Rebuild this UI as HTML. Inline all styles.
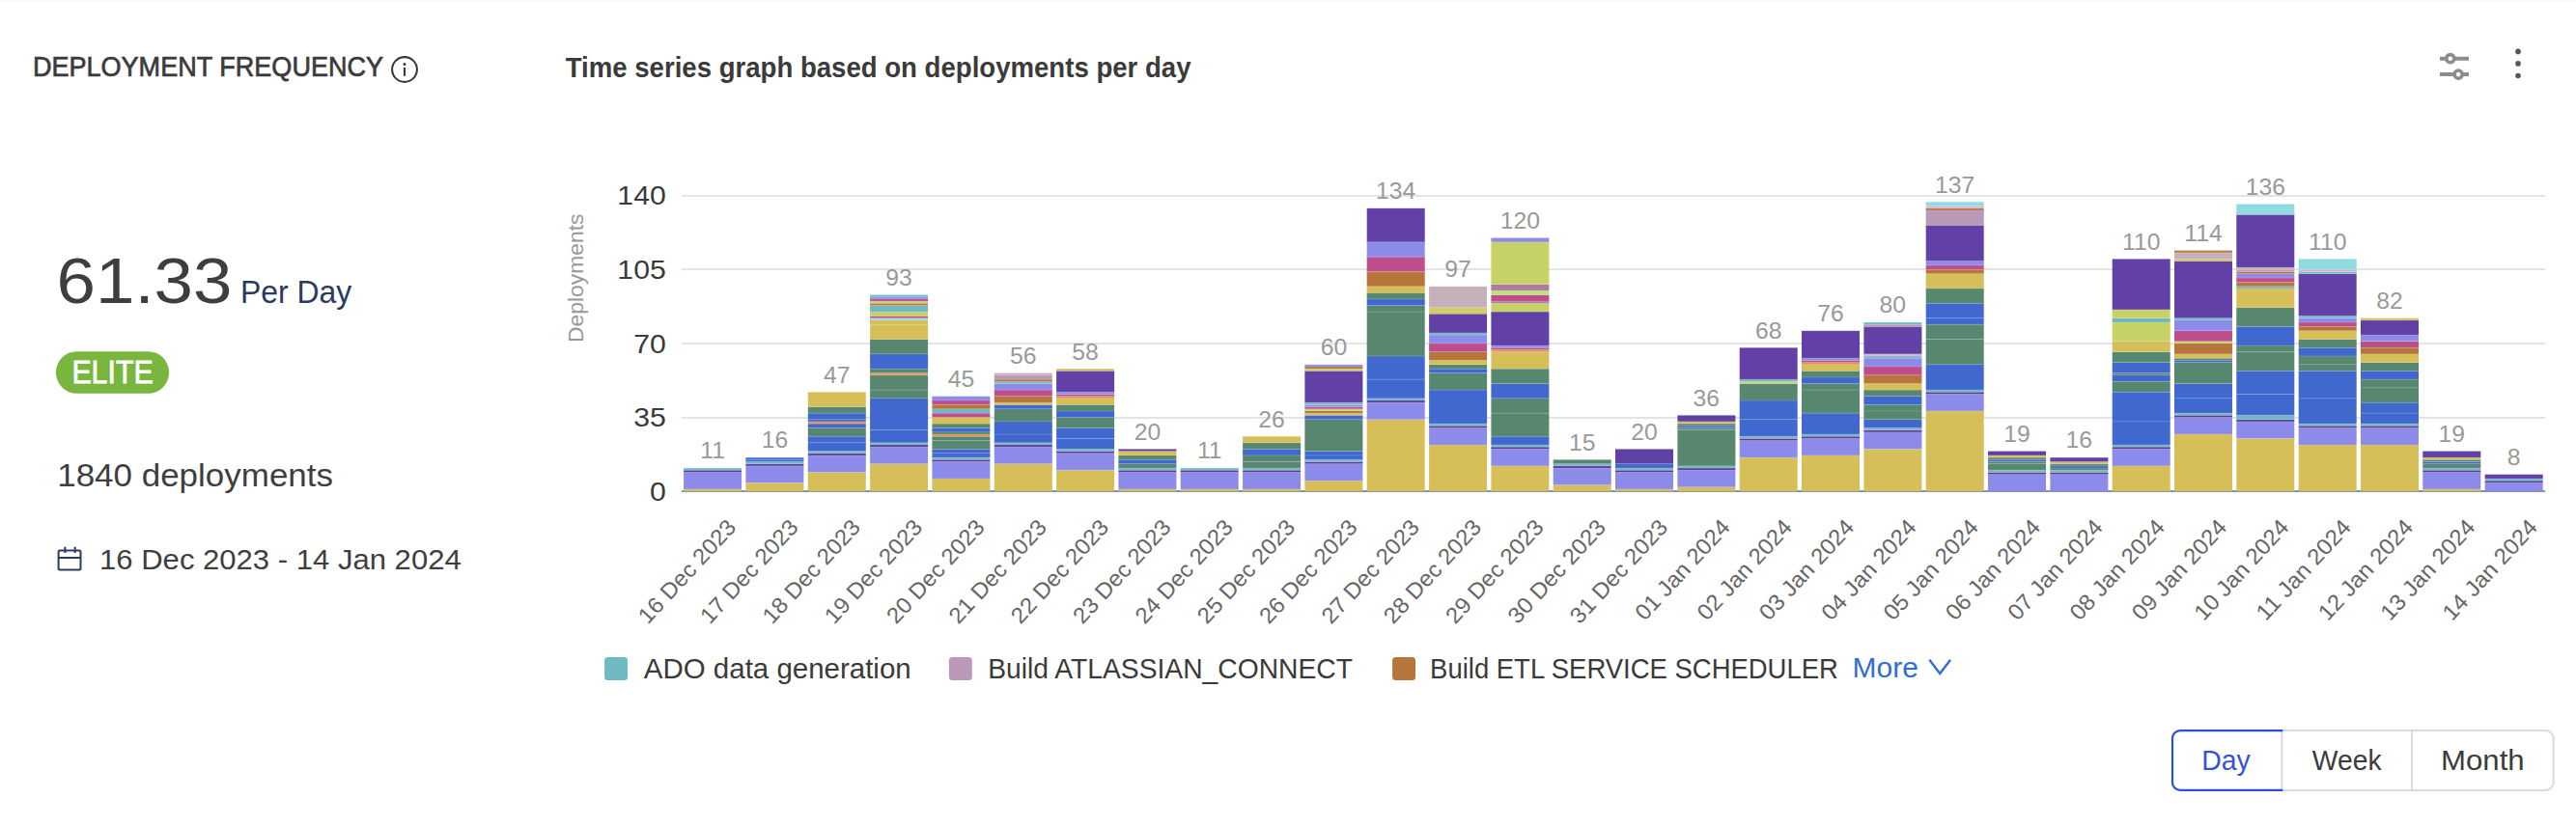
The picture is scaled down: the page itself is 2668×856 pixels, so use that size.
<!DOCTYPE html>
<html lang="en"><head><meta charset="utf-8"><title>Deployment Frequency</title>
<style>
html,body{margin:0;padding:0;background:#fff;}
html,body{overflow:hidden;}
body{font-family:"Liberation Sans", sans-serif;}
svg{display:block;width:100vw;height:calc(100vw * 856 / 2668);}
svg text{white-space:pre;}
</style></head><body>
<svg viewBox="0 0 2668 856" preserveAspectRatio="xMinYMin meet" font-family='"Liberation Sans", sans-serif'>
<rect x="0" y="0" width="2668" height="2" fill="#fafafa"/>
<g shape-rendering="crispEdges">
<rect x="706.3" y="431.5" width="1929.7" height="2" fill="#e4e4e4"/>
<rect x="706.3" y="354.9" width="1929.7" height="2" fill="#e4e4e4"/>
<rect x="706.3" y="278.3" width="1929.7" height="2" fill="#e4e4e4"/>
<rect x="706.3" y="201.7" width="1929.7" height="2" fill="#e4e4e4"/>
<rect x="706.3" y="508" width="1929.7" height="2" fill="#8791ad"/>
</g>
<g>
<rect x="708.1" y="506.96" width="60" height="2.19" fill="#D6BE58"/>
<rect x="708.1" y="489.45" width="60" height="17.51" fill="#8D8BEA"/>
<rect x="708.1" y="487.26" width="60" height="2.19" fill="#5B3999"/>
<rect x="708.1" y="485.07" width="60" height="2.19" fill="#6FB9C3"/>
<rect x="708.1" y="506.46" width="60" height="1" fill="#fff" fill-opacity="0.15"/>
<rect x="708.1" y="488.95" width="60" height="1" fill="#fff" fill-opacity="0.15"/>
<rect x="708.1" y="486.76" width="60" height="1" fill="#fff" fill-opacity="0.15"/>
<rect x="708.1" y="484.57" width="60" height="1" fill="#fff" fill-opacity="0.15"/>
<rect x="772.4" y="500.39" width="60" height="8.76" fill="#D6BE58"/>
<rect x="772.4" y="482.88" width="60" height="17.51" fill="#8D8BEA"/>
<rect x="772.4" y="480.69" width="60" height="2.19" fill="#5B3999"/>
<rect x="772.4" y="478.50" width="60" height="2.19" fill="#6FB9C3"/>
<rect x="772.4" y="476.31" width="60" height="2.19" fill="#4068CF"/>
<rect x="772.4" y="474.13" width="60" height="2.19" fill="#4068CF"/>
<rect x="772.4" y="499.89" width="60" height="1" fill="#fff" fill-opacity="0.15"/>
<rect x="772.4" y="482.38" width="60" height="1" fill="#fff" fill-opacity="0.15"/>
<rect x="772.4" y="480.19" width="60" height="1" fill="#fff" fill-opacity="0.15"/>
<rect x="772.4" y="478.00" width="60" height="1" fill="#fff" fill-opacity="0.15"/>
<rect x="772.4" y="475.81" width="60" height="1" fill="#fff" fill-opacity="0.15"/>
<rect x="772.4" y="473.63" width="60" height="1" fill="#fff" fill-opacity="0.15"/>
<rect x="836.8" y="489.45" width="60" height="19.70" fill="#D6BE58"/>
<rect x="836.8" y="471.94" width="60" height="17.51" fill="#8D8BEA"/>
<rect x="836.8" y="469.75" width="60" height="2.19" fill="#5B3999"/>
<rect x="836.8" y="467.56" width="60" height="2.19" fill="#6FB9C3"/>
<rect x="836.8" y="458.80" width="60" height="8.76" fill="#4068CF"/>
<rect x="836.8" y="452.24" width="60" height="6.57" fill="#4068CF"/>
<rect x="836.8" y="443.48" width="60" height="8.76" fill="#57876F"/>
<rect x="836.8" y="439.10" width="60" height="4.38" fill="#4068CF"/>
<rect x="836.8" y="436.91" width="60" height="2.19" fill="#E0964A"/>
<rect x="836.8" y="434.72" width="60" height="2.19" fill="#4068CF"/>
<rect x="836.8" y="428.16" width="60" height="6.57" fill="#4068CF"/>
<rect x="836.8" y="421.59" width="60" height="6.57" fill="#57876F"/>
<rect x="836.8" y="406.27" width="60" height="15.32" fill="#D6BE58"/>
<rect x="836.8" y="488.95" width="60" height="1" fill="#fff" fill-opacity="0.15"/>
<rect x="836.8" y="471.44" width="60" height="1" fill="#fff" fill-opacity="0.15"/>
<rect x="836.8" y="469.25" width="60" height="1" fill="#fff" fill-opacity="0.15"/>
<rect x="836.8" y="467.06" width="60" height="1" fill="#fff" fill-opacity="0.15"/>
<rect x="836.8" y="458.30" width="60" height="1" fill="#fff" fill-opacity="0.15"/>
<rect x="836.8" y="451.74" width="60" height="1" fill="#fff" fill-opacity="0.15"/>
<rect x="836.8" y="442.98" width="60" height="1" fill="#fff" fill-opacity="0.15"/>
<rect x="836.8" y="438.60" width="60" height="1" fill="#fff" fill-opacity="0.15"/>
<rect x="836.8" y="436.41" width="60" height="1" fill="#fff" fill-opacity="0.15"/>
<rect x="836.8" y="434.22" width="60" height="1" fill="#fff" fill-opacity="0.15"/>
<rect x="836.8" y="427.66" width="60" height="1" fill="#fff" fill-opacity="0.15"/>
<rect x="836.8" y="421.09" width="60" height="1" fill="#fff" fill-opacity="0.15"/>
<rect x="836.8" y="405.77" width="60" height="1" fill="#fff" fill-opacity="0.15"/>
<rect x="901.1" y="480.69" width="60" height="28.46" fill="#D6BE58"/>
<rect x="901.1" y="463.18" width="60" height="17.51" fill="#8D8BEA"/>
<rect x="901.1" y="460.99" width="60" height="2.19" fill="#5B3999"/>
<rect x="901.1" y="458.80" width="60" height="2.19" fill="#6FB9C3"/>
<rect x="901.1" y="445.67" width="60" height="13.13" fill="#4068CF"/>
<rect x="901.1" y="412.83" width="60" height="32.84" fill="#4068CF"/>
<rect x="901.1" y="404.08" width="60" height="8.76" fill="#57876F"/>
<rect x="901.1" y="388.75" width="60" height="15.32" fill="#57876F"/>
<rect x="901.1" y="386.57" width="60" height="2.19" fill="#E0964A"/>
<rect x="901.1" y="382.19" width="60" height="4.38" fill="#57876F"/>
<rect x="901.1" y="366.87" width="60" height="15.32" fill="#4068CF"/>
<rect x="901.1" y="351.54" width="60" height="15.32" fill="#57876F"/>
<rect x="901.1" y="336.22" width="60" height="15.32" fill="#D6BE58"/>
<rect x="901.1" y="331.84" width="60" height="4.38" fill="#D6BE58"/>
<rect x="901.1" y="329.65" width="60" height="2.19" fill="#8FDCE0"/>
<rect x="901.1" y="327.46" width="60" height="2.19" fill="#BD4E8B"/>
<rect x="901.1" y="323.08" width="60" height="4.38" fill="#C6D265"/>
<rect x="901.1" y="316.52" width="60" height="6.57" fill="#6FB9C3"/>
<rect x="901.1" y="314.33" width="60" height="2.19" fill="#B5753B"/>
<rect x="901.1" y="312.14" width="60" height="2.19" fill="#C6D265"/>
<rect x="901.1" y="309.95" width="60" height="2.19" fill="#BD4E8B"/>
<rect x="901.1" y="307.76" width="60" height="2.19" fill="#8D8BEA"/>
<rect x="901.1" y="305.57" width="60" height="2.19" fill="#6FB9C3"/>
<rect x="901.1" y="480.19" width="60" height="1" fill="#fff" fill-opacity="0.15"/>
<rect x="901.1" y="462.68" width="60" height="1" fill="#fff" fill-opacity="0.15"/>
<rect x="901.1" y="460.49" width="60" height="1" fill="#fff" fill-opacity="0.15"/>
<rect x="901.1" y="458.30" width="60" height="1" fill="#fff" fill-opacity="0.15"/>
<rect x="901.1" y="445.17" width="60" height="1" fill="#fff" fill-opacity="0.15"/>
<rect x="901.1" y="412.33" width="60" height="1" fill="#fff" fill-opacity="0.15"/>
<rect x="901.1" y="403.58" width="60" height="1" fill="#fff" fill-opacity="0.15"/>
<rect x="901.1" y="388.25" width="60" height="1" fill="#fff" fill-opacity="0.15"/>
<rect x="901.1" y="386.07" width="60" height="1" fill="#fff" fill-opacity="0.15"/>
<rect x="901.1" y="381.69" width="60" height="1" fill="#fff" fill-opacity="0.15"/>
<rect x="901.1" y="366.37" width="60" height="1" fill="#fff" fill-opacity="0.15"/>
<rect x="901.1" y="351.04" width="60" height="1" fill="#fff" fill-opacity="0.15"/>
<rect x="901.1" y="335.72" width="60" height="1" fill="#fff" fill-opacity="0.15"/>
<rect x="901.1" y="331.34" width="60" height="1" fill="#fff" fill-opacity="0.15"/>
<rect x="901.1" y="329.15" width="60" height="1" fill="#fff" fill-opacity="0.15"/>
<rect x="901.1" y="326.96" width="60" height="1" fill="#fff" fill-opacity="0.15"/>
<rect x="901.1" y="322.58" width="60" height="1" fill="#fff" fill-opacity="0.15"/>
<rect x="901.1" y="316.02" width="60" height="1" fill="#fff" fill-opacity="0.15"/>
<rect x="901.1" y="313.83" width="60" height="1" fill="#fff" fill-opacity="0.15"/>
<rect x="901.1" y="311.64" width="60" height="1" fill="#fff" fill-opacity="0.15"/>
<rect x="901.1" y="309.45" width="60" height="1" fill="#fff" fill-opacity="0.15"/>
<rect x="901.1" y="307.26" width="60" height="1" fill="#fff" fill-opacity="0.15"/>
<rect x="901.1" y="305.07" width="60" height="1" fill="#fff" fill-opacity="0.15"/>
<rect x="965.4" y="496.02" width="60" height="13.13" fill="#D6BE58"/>
<rect x="965.4" y="478.50" width="60" height="17.51" fill="#8D8BEA"/>
<rect x="965.4" y="476.31" width="60" height="2.19" fill="#5B3999"/>
<rect x="965.4" y="474.13" width="60" height="2.19" fill="#6FB9C3"/>
<rect x="965.4" y="469.75" width="60" height="4.38" fill="#4068CF"/>
<rect x="965.4" y="465.37" width="60" height="4.38" fill="#4068CF"/>
<rect x="965.4" y="456.61" width="60" height="8.76" fill="#57876F"/>
<rect x="965.4" y="452.24" width="60" height="4.38" fill="#57876F"/>
<rect x="965.4" y="450.05" width="60" height="2.19" fill="#E0964A"/>
<rect x="965.4" y="447.86" width="60" height="2.19" fill="#57876F"/>
<rect x="965.4" y="443.48" width="60" height="4.38" fill="#4068CF"/>
<rect x="965.4" y="439.10" width="60" height="4.38" fill="#57876F"/>
<rect x="965.4" y="432.53" width="60" height="6.57" fill="#D6BE58"/>
<rect x="965.4" y="428.16" width="60" height="4.38" fill="#BD4E8B"/>
<rect x="965.4" y="423.78" width="60" height="4.38" fill="#6FB9C3"/>
<rect x="965.4" y="419.40" width="60" height="4.38" fill="#B5753B"/>
<rect x="965.4" y="415.02" width="60" height="4.38" fill="#BD4E8B"/>
<rect x="965.4" y="410.64" width="60" height="4.38" fill="#8D8BEA"/>
<rect x="965.4" y="495.52" width="60" height="1" fill="#fff" fill-opacity="0.15"/>
<rect x="965.4" y="478.00" width="60" height="1" fill="#fff" fill-opacity="0.15"/>
<rect x="965.4" y="475.81" width="60" height="1" fill="#fff" fill-opacity="0.15"/>
<rect x="965.4" y="473.63" width="60" height="1" fill="#fff" fill-opacity="0.15"/>
<rect x="965.4" y="469.25" width="60" height="1" fill="#fff" fill-opacity="0.15"/>
<rect x="965.4" y="464.87" width="60" height="1" fill="#fff" fill-opacity="0.15"/>
<rect x="965.4" y="456.11" width="60" height="1" fill="#fff" fill-opacity="0.15"/>
<rect x="965.4" y="451.74" width="60" height="1" fill="#fff" fill-opacity="0.15"/>
<rect x="965.4" y="449.55" width="60" height="1" fill="#fff" fill-opacity="0.15"/>
<rect x="965.4" y="447.36" width="60" height="1" fill="#fff" fill-opacity="0.15"/>
<rect x="965.4" y="442.98" width="60" height="1" fill="#fff" fill-opacity="0.15"/>
<rect x="965.4" y="438.60" width="60" height="1" fill="#fff" fill-opacity="0.15"/>
<rect x="965.4" y="432.03" width="60" height="1" fill="#fff" fill-opacity="0.15"/>
<rect x="965.4" y="427.66" width="60" height="1" fill="#fff" fill-opacity="0.15"/>
<rect x="965.4" y="423.28" width="60" height="1" fill="#fff" fill-opacity="0.15"/>
<rect x="965.4" y="418.90" width="60" height="1" fill="#fff" fill-opacity="0.15"/>
<rect x="965.4" y="414.52" width="60" height="1" fill="#fff" fill-opacity="0.15"/>
<rect x="965.4" y="410.14" width="60" height="1" fill="#fff" fill-opacity="0.15"/>
<rect x="1029.8" y="480.69" width="60" height="28.46" fill="#D6BE58"/>
<rect x="1029.8" y="463.18" width="60" height="17.51" fill="#8D8BEA"/>
<rect x="1029.8" y="460.99" width="60" height="2.19" fill="#5B3999"/>
<rect x="1029.8" y="458.80" width="60" height="2.19" fill="#6FB9C3"/>
<rect x="1029.8" y="450.05" width="60" height="8.76" fill="#4068CF"/>
<rect x="1029.8" y="436.91" width="60" height="13.13" fill="#4068CF"/>
<rect x="1029.8" y="423.78" width="60" height="13.13" fill="#57876F"/>
<rect x="1029.8" y="419.40" width="60" height="4.38" fill="#4068CF"/>
<rect x="1029.8" y="417.21" width="60" height="2.19" fill="#D6BE58"/>
<rect x="1029.8" y="410.64" width="60" height="6.57" fill="#B5753B"/>
<rect x="1029.8" y="404.08" width="60" height="6.57" fill="#BD4E8B"/>
<rect x="1029.8" y="397.51" width="60" height="6.57" fill="#8D8BEA"/>
<rect x="1029.8" y="395.32" width="60" height="2.19" fill="#6FB9C3"/>
<rect x="1029.8" y="393.13" width="60" height="2.19" fill="#B5753B"/>
<rect x="1029.8" y="388.75" width="60" height="4.38" fill="#BA99B8"/>
<rect x="1029.8" y="386.57" width="60" height="2.19" fill="#C5B0BC"/>
<rect x="1029.8" y="480.19" width="60" height="1" fill="#fff" fill-opacity="0.15"/>
<rect x="1029.8" y="462.68" width="60" height="1" fill="#fff" fill-opacity="0.15"/>
<rect x="1029.8" y="460.49" width="60" height="1" fill="#fff" fill-opacity="0.15"/>
<rect x="1029.8" y="458.30" width="60" height="1" fill="#fff" fill-opacity="0.15"/>
<rect x="1029.8" y="449.55" width="60" height="1" fill="#fff" fill-opacity="0.15"/>
<rect x="1029.8" y="436.41" width="60" height="1" fill="#fff" fill-opacity="0.15"/>
<rect x="1029.8" y="423.28" width="60" height="1" fill="#fff" fill-opacity="0.15"/>
<rect x="1029.8" y="418.90" width="60" height="1" fill="#fff" fill-opacity="0.15"/>
<rect x="1029.8" y="416.71" width="60" height="1" fill="#fff" fill-opacity="0.15"/>
<rect x="1029.8" y="410.14" width="60" height="1" fill="#fff" fill-opacity="0.15"/>
<rect x="1029.8" y="403.58" width="60" height="1" fill="#fff" fill-opacity="0.15"/>
<rect x="1029.8" y="397.01" width="60" height="1" fill="#fff" fill-opacity="0.15"/>
<rect x="1029.8" y="394.82" width="60" height="1" fill="#fff" fill-opacity="0.15"/>
<rect x="1029.8" y="392.63" width="60" height="1" fill="#fff" fill-opacity="0.15"/>
<rect x="1029.8" y="388.25" width="60" height="1" fill="#fff" fill-opacity="0.15"/>
<rect x="1029.8" y="386.07" width="60" height="1" fill="#fff" fill-opacity="0.15"/>
<rect x="1094.1" y="487.26" width="60" height="21.89" fill="#D6BE58"/>
<rect x="1094.1" y="469.75" width="60" height="17.51" fill="#8D8BEA"/>
<rect x="1094.1" y="467.56" width="60" height="2.19" fill="#5B3999"/>
<rect x="1094.1" y="465.37" width="60" height="2.19" fill="#6FB9C3"/>
<rect x="1094.1" y="454.42" width="60" height="10.95" fill="#4068CF"/>
<rect x="1094.1" y="443.48" width="60" height="10.94" fill="#4068CF"/>
<rect x="1094.1" y="432.53" width="60" height="10.94" fill="#57876F"/>
<rect x="1094.1" y="425.97" width="60" height="6.57" fill="#4068CF"/>
<rect x="1094.1" y="419.40" width="60" height="6.57" fill="#57876F"/>
<rect x="1094.1" y="412.83" width="60" height="6.57" fill="#D6BE58"/>
<rect x="1094.1" y="410.64" width="60" height="2.19" fill="#E0964A"/>
<rect x="1094.1" y="408.46" width="60" height="2.19" fill="#BD4E8B"/>
<rect x="1094.1" y="406.27" width="60" height="2.19" fill="#8D8BEA"/>
<rect x="1094.1" y="384.38" width="60" height="21.89" fill="#6141A5"/>
<rect x="1094.1" y="382.19" width="60" height="2.19" fill="#D6BE58"/>
<rect x="1094.1" y="486.76" width="60" height="1" fill="#fff" fill-opacity="0.15"/>
<rect x="1094.1" y="469.25" width="60" height="1" fill="#fff" fill-opacity="0.15"/>
<rect x="1094.1" y="467.06" width="60" height="1" fill="#fff" fill-opacity="0.15"/>
<rect x="1094.1" y="464.87" width="60" height="1" fill="#fff" fill-opacity="0.15"/>
<rect x="1094.1" y="453.92" width="60" height="1" fill="#fff" fill-opacity="0.15"/>
<rect x="1094.1" y="442.98" width="60" height="1" fill="#fff" fill-opacity="0.15"/>
<rect x="1094.1" y="432.03" width="60" height="1" fill="#fff" fill-opacity="0.15"/>
<rect x="1094.1" y="425.47" width="60" height="1" fill="#fff" fill-opacity="0.15"/>
<rect x="1094.1" y="418.90" width="60" height="1" fill="#fff" fill-opacity="0.15"/>
<rect x="1094.1" y="412.33" width="60" height="1" fill="#fff" fill-opacity="0.15"/>
<rect x="1094.1" y="410.14" width="60" height="1" fill="#fff" fill-opacity="0.15"/>
<rect x="1094.1" y="407.96" width="60" height="1" fill="#fff" fill-opacity="0.15"/>
<rect x="1094.1" y="405.77" width="60" height="1" fill="#fff" fill-opacity="0.15"/>
<rect x="1094.1" y="383.88" width="60" height="1" fill="#fff" fill-opacity="0.15"/>
<rect x="1094.1" y="381.69" width="60" height="1" fill="#fff" fill-opacity="0.15"/>
<rect x="1158.4" y="506.96" width="60" height="2.19" fill="#D6BE58"/>
<rect x="1158.4" y="489.45" width="60" height="17.51" fill="#8D8BEA"/>
<rect x="1158.4" y="487.26" width="60" height="2.19" fill="#5B3999"/>
<rect x="1158.4" y="485.07" width="60" height="2.19" fill="#6FB9C3"/>
<rect x="1158.4" y="480.69" width="60" height="4.38" fill="#57876F"/>
<rect x="1158.4" y="476.31" width="60" height="4.38" fill="#4068CF"/>
<rect x="1158.4" y="471.94" width="60" height="4.38" fill="#57876F"/>
<rect x="1158.4" y="467.56" width="60" height="4.38" fill="#D6BE58"/>
<rect x="1158.4" y="465.37" width="60" height="2.19" fill="#5B3999"/>
<rect x="1158.4" y="506.46" width="60" height="1" fill="#fff" fill-opacity="0.15"/>
<rect x="1158.4" y="488.95" width="60" height="1" fill="#fff" fill-opacity="0.15"/>
<rect x="1158.4" y="486.76" width="60" height="1" fill="#fff" fill-opacity="0.15"/>
<rect x="1158.4" y="484.57" width="60" height="1" fill="#fff" fill-opacity="0.15"/>
<rect x="1158.4" y="480.19" width="60" height="1" fill="#fff" fill-opacity="0.15"/>
<rect x="1158.4" y="475.81" width="60" height="1" fill="#fff" fill-opacity="0.15"/>
<rect x="1158.4" y="471.44" width="60" height="1" fill="#fff" fill-opacity="0.15"/>
<rect x="1158.4" y="467.06" width="60" height="1" fill="#fff" fill-opacity="0.15"/>
<rect x="1158.4" y="464.87" width="60" height="1" fill="#fff" fill-opacity="0.15"/>
<rect x="1222.7" y="506.96" width="60" height="2.19" fill="#D6BE58"/>
<rect x="1222.7" y="489.45" width="60" height="17.51" fill="#8D8BEA"/>
<rect x="1222.7" y="487.26" width="60" height="2.19" fill="#5B3999"/>
<rect x="1222.7" y="485.07" width="60" height="2.19" fill="#6FB9C3"/>
<rect x="1222.7" y="506.46" width="60" height="1" fill="#fff" fill-opacity="0.15"/>
<rect x="1222.7" y="488.95" width="60" height="1" fill="#fff" fill-opacity="0.15"/>
<rect x="1222.7" y="486.76" width="60" height="1" fill="#fff" fill-opacity="0.15"/>
<rect x="1222.7" y="484.57" width="60" height="1" fill="#fff" fill-opacity="0.15"/>
<rect x="1287.1" y="506.96" width="60" height="2.19" fill="#D6BE58"/>
<rect x="1287.1" y="489.45" width="60" height="17.51" fill="#8D8BEA"/>
<rect x="1287.1" y="487.26" width="60" height="2.19" fill="#5B3999"/>
<rect x="1287.1" y="485.07" width="60" height="2.19" fill="#6FB9C3"/>
<rect x="1287.1" y="478.50" width="60" height="6.57" fill="#57876F"/>
<rect x="1287.1" y="471.94" width="60" height="6.57" fill="#57876F"/>
<rect x="1287.1" y="465.37" width="60" height="6.57" fill="#4068CF"/>
<rect x="1287.1" y="458.80" width="60" height="6.57" fill="#57876F"/>
<rect x="1287.1" y="452.24" width="60" height="6.57" fill="#D6BE58"/>
<rect x="1287.1" y="506.46" width="60" height="1" fill="#fff" fill-opacity="0.15"/>
<rect x="1287.1" y="488.95" width="60" height="1" fill="#fff" fill-opacity="0.15"/>
<rect x="1287.1" y="486.76" width="60" height="1" fill="#fff" fill-opacity="0.15"/>
<rect x="1287.1" y="484.57" width="60" height="1" fill="#fff" fill-opacity="0.15"/>
<rect x="1287.1" y="478.00" width="60" height="1" fill="#fff" fill-opacity="0.15"/>
<rect x="1287.1" y="471.44" width="60" height="1" fill="#fff" fill-opacity="0.15"/>
<rect x="1287.1" y="464.87" width="60" height="1" fill="#fff" fill-opacity="0.15"/>
<rect x="1287.1" y="458.30" width="60" height="1" fill="#fff" fill-opacity="0.15"/>
<rect x="1287.1" y="451.74" width="60" height="1" fill="#fff" fill-opacity="0.15"/>
<rect x="1351.4" y="498.20" width="60" height="10.94" fill="#D6BE58"/>
<rect x="1351.4" y="480.69" width="60" height="17.51" fill="#8D8BEA"/>
<rect x="1351.4" y="478.50" width="60" height="2.19" fill="#5B3999"/>
<rect x="1351.4" y="476.31" width="60" height="2.19" fill="#6FB9C3"/>
<rect x="1351.4" y="471.94" width="60" height="4.38" fill="#4068CF"/>
<rect x="1351.4" y="467.56" width="60" height="4.38" fill="#4068CF"/>
<rect x="1351.4" y="434.72" width="60" height="32.83" fill="#57876F"/>
<rect x="1351.4" y="430.35" width="60" height="4.38" fill="#4068CF"/>
<rect x="1351.4" y="428.16" width="60" height="2.19" fill="#D6BE58"/>
<rect x="1351.4" y="425.97" width="60" height="2.19" fill="#B5753B"/>
<rect x="1351.4" y="423.78" width="60" height="2.19" fill="#C6D265"/>
<rect x="1351.4" y="421.59" width="60" height="2.19" fill="#BD4E8B"/>
<rect x="1351.4" y="419.40" width="60" height="2.19" fill="#8D8BEA"/>
<rect x="1351.4" y="417.21" width="60" height="2.19" fill="#6FB9C3"/>
<rect x="1351.4" y="384.38" width="60" height="32.84" fill="#6141A5"/>
<rect x="1351.4" y="382.19" width="60" height="2.19" fill="#C6D265"/>
<rect x="1351.4" y="380.00" width="60" height="2.19" fill="#B5753B"/>
<rect x="1351.4" y="377.81" width="60" height="2.19" fill="#8D8BEA"/>
<rect x="1351.4" y="497.70" width="60" height="1" fill="#fff" fill-opacity="0.15"/>
<rect x="1351.4" y="480.19" width="60" height="1" fill="#fff" fill-opacity="0.15"/>
<rect x="1351.4" y="478.00" width="60" height="1" fill="#fff" fill-opacity="0.15"/>
<rect x="1351.4" y="475.81" width="60" height="1" fill="#fff" fill-opacity="0.15"/>
<rect x="1351.4" y="471.44" width="60" height="1" fill="#fff" fill-opacity="0.15"/>
<rect x="1351.4" y="467.06" width="60" height="1" fill="#fff" fill-opacity="0.15"/>
<rect x="1351.4" y="434.22" width="60" height="1" fill="#fff" fill-opacity="0.15"/>
<rect x="1351.4" y="429.85" width="60" height="1" fill="#fff" fill-opacity="0.15"/>
<rect x="1351.4" y="427.66" width="60" height="1" fill="#fff" fill-opacity="0.15"/>
<rect x="1351.4" y="425.47" width="60" height="1" fill="#fff" fill-opacity="0.15"/>
<rect x="1351.4" y="423.28" width="60" height="1" fill="#fff" fill-opacity="0.15"/>
<rect x="1351.4" y="421.09" width="60" height="1" fill="#fff" fill-opacity="0.15"/>
<rect x="1351.4" y="418.90" width="60" height="1" fill="#fff" fill-opacity="0.15"/>
<rect x="1351.4" y="416.71" width="60" height="1" fill="#fff" fill-opacity="0.15"/>
<rect x="1351.4" y="383.88" width="60" height="1" fill="#fff" fill-opacity="0.15"/>
<rect x="1351.4" y="381.69" width="60" height="1" fill="#fff" fill-opacity="0.15"/>
<rect x="1351.4" y="379.50" width="60" height="1" fill="#fff" fill-opacity="0.15"/>
<rect x="1351.4" y="377.31" width="60" height="1" fill="#fff" fill-opacity="0.15"/>
<rect x="1415.7" y="434.72" width="60" height="74.43" fill="#D6BE58"/>
<rect x="1415.7" y="417.21" width="60" height="17.51" fill="#8D8BEA"/>
<rect x="1415.7" y="415.02" width="60" height="2.19" fill="#5B3999"/>
<rect x="1415.7" y="412.83" width="60" height="2.19" fill="#6FB9C3"/>
<rect x="1415.7" y="393.13" width="60" height="19.70" fill="#4068CF"/>
<rect x="1415.7" y="369.05" width="60" height="24.08" fill="#4068CF"/>
<rect x="1415.7" y="323.08" width="60" height="45.97" fill="#57876F"/>
<rect x="1415.7" y="316.52" width="60" height="6.57" fill="#57876F"/>
<rect x="1415.7" y="309.95" width="60" height="6.57" fill="#4068CF"/>
<rect x="1415.7" y="303.38" width="60" height="6.57" fill="#57876F"/>
<rect x="1415.7" y="296.82" width="60" height="6.57" fill="#D6BE58"/>
<rect x="1415.7" y="281.49" width="60" height="15.32" fill="#B5753B"/>
<rect x="1415.7" y="266.17" width="60" height="15.32" fill="#BD4E8B"/>
<rect x="1415.7" y="250.85" width="60" height="15.32" fill="#8D8BEA"/>
<rect x="1415.7" y="215.82" width="60" height="35.02" fill="#6141A5"/>
<rect x="1415.7" y="434.22" width="60" height="1" fill="#fff" fill-opacity="0.15"/>
<rect x="1415.7" y="416.71" width="60" height="1" fill="#fff" fill-opacity="0.15"/>
<rect x="1415.7" y="414.52" width="60" height="1" fill="#fff" fill-opacity="0.15"/>
<rect x="1415.7" y="412.33" width="60" height="1" fill="#fff" fill-opacity="0.15"/>
<rect x="1415.7" y="392.63" width="60" height="1" fill="#fff" fill-opacity="0.15"/>
<rect x="1415.7" y="368.55" width="60" height="1" fill="#fff" fill-opacity="0.15"/>
<rect x="1415.7" y="322.58" width="60" height="1" fill="#fff" fill-opacity="0.15"/>
<rect x="1415.7" y="316.02" width="60" height="1" fill="#fff" fill-opacity="0.15"/>
<rect x="1415.7" y="309.45" width="60" height="1" fill="#fff" fill-opacity="0.15"/>
<rect x="1415.7" y="302.88" width="60" height="1" fill="#fff" fill-opacity="0.15"/>
<rect x="1415.7" y="296.32" width="60" height="1" fill="#fff" fill-opacity="0.15"/>
<rect x="1415.7" y="280.99" width="60" height="1" fill="#fff" fill-opacity="0.15"/>
<rect x="1415.7" y="265.67" width="60" height="1" fill="#fff" fill-opacity="0.15"/>
<rect x="1415.7" y="250.35" width="60" height="1" fill="#fff" fill-opacity="0.15"/>
<rect x="1415.7" y="215.32" width="60" height="1" fill="#fff" fill-opacity="0.15"/>
<rect x="1480.1" y="460.99" width="60" height="48.16" fill="#D6BE58"/>
<rect x="1480.1" y="443.48" width="60" height="17.51" fill="#8D8BEA"/>
<rect x="1480.1" y="441.29" width="60" height="2.19" fill="#5B3999"/>
<rect x="1480.1" y="439.10" width="60" height="2.19" fill="#6FB9C3"/>
<rect x="1480.1" y="404.08" width="60" height="35.02" fill="#4068CF"/>
<rect x="1480.1" y="386.57" width="60" height="17.51" fill="#57876F"/>
<rect x="1480.1" y="382.19" width="60" height="4.38" fill="#4068CF"/>
<rect x="1480.1" y="377.81" width="60" height="4.38" fill="#57876F"/>
<rect x="1480.1" y="373.43" width="60" height="4.38" fill="#D6BE58"/>
<rect x="1480.1" y="364.68" width="60" height="8.76" fill="#B5753B"/>
<rect x="1480.1" y="355.92" width="60" height="8.76" fill="#BD4E8B"/>
<rect x="1480.1" y="347.16" width="60" height="8.76" fill="#8D8BEA"/>
<rect x="1480.1" y="344.97" width="60" height="2.19" fill="#6FB9C3"/>
<rect x="1480.1" y="325.27" width="60" height="19.70" fill="#6141A5"/>
<rect x="1480.1" y="323.08" width="60" height="2.19" fill="#D6BE58"/>
<rect x="1480.1" y="318.71" width="60" height="4.38" fill="#C6D265"/>
<rect x="1480.1" y="296.82" width="60" height="21.89" fill="#C5B0BC"/>
<rect x="1480.1" y="460.49" width="60" height="1" fill="#fff" fill-opacity="0.15"/>
<rect x="1480.1" y="442.98" width="60" height="1" fill="#fff" fill-opacity="0.15"/>
<rect x="1480.1" y="440.79" width="60" height="1" fill="#fff" fill-opacity="0.15"/>
<rect x="1480.1" y="438.60" width="60" height="1" fill="#fff" fill-opacity="0.15"/>
<rect x="1480.1" y="403.58" width="60" height="1" fill="#fff" fill-opacity="0.15"/>
<rect x="1480.1" y="386.07" width="60" height="1" fill="#fff" fill-opacity="0.15"/>
<rect x="1480.1" y="381.69" width="60" height="1" fill="#fff" fill-opacity="0.15"/>
<rect x="1480.1" y="377.31" width="60" height="1" fill="#fff" fill-opacity="0.15"/>
<rect x="1480.1" y="372.93" width="60" height="1" fill="#fff" fill-opacity="0.15"/>
<rect x="1480.1" y="364.18" width="60" height="1" fill="#fff" fill-opacity="0.15"/>
<rect x="1480.1" y="355.42" width="60" height="1" fill="#fff" fill-opacity="0.15"/>
<rect x="1480.1" y="346.66" width="60" height="1" fill="#fff" fill-opacity="0.15"/>
<rect x="1480.1" y="344.47" width="60" height="1" fill="#fff" fill-opacity="0.15"/>
<rect x="1480.1" y="324.77" width="60" height="1" fill="#fff" fill-opacity="0.15"/>
<rect x="1480.1" y="322.58" width="60" height="1" fill="#fff" fill-opacity="0.15"/>
<rect x="1480.1" y="318.21" width="60" height="1" fill="#fff" fill-opacity="0.15"/>
<rect x="1480.1" y="296.32" width="60" height="1" fill="#fff" fill-opacity="0.15"/>
<rect x="1544.4" y="482.88" width="60" height="26.27" fill="#D6BE58"/>
<rect x="1544.4" y="465.37" width="60" height="17.51" fill="#8D8BEA"/>
<rect x="1544.4" y="463.18" width="60" height="2.19" fill="#5B3999"/>
<rect x="1544.4" y="460.99" width="60" height="2.19" fill="#6FB9C3"/>
<rect x="1544.4" y="452.24" width="60" height="8.76" fill="#4068CF"/>
<rect x="1544.4" y="428.16" width="60" height="24.08" fill="#57876F"/>
<rect x="1544.4" y="412.83" width="60" height="15.32" fill="#57876F"/>
<rect x="1544.4" y="397.51" width="60" height="15.32" fill="#4068CF"/>
<rect x="1544.4" y="382.19" width="60" height="15.32" fill="#57876F"/>
<rect x="1544.4" y="364.68" width="60" height="17.51" fill="#D6BE58"/>
<rect x="1544.4" y="362.49" width="60" height="2.19" fill="#E0964A"/>
<rect x="1544.4" y="360.30" width="60" height="2.19" fill="#BD4E8B"/>
<rect x="1544.4" y="358.11" width="60" height="2.19" fill="#8D8BEA"/>
<rect x="1544.4" y="323.08" width="60" height="35.02" fill="#6141A5"/>
<rect x="1544.4" y="314.33" width="60" height="8.76" fill="#C6D265"/>
<rect x="1544.4" y="312.14" width="60" height="2.19" fill="#B07A9A"/>
<rect x="1544.4" y="305.57" width="60" height="6.57" fill="#BD4E8B"/>
<rect x="1544.4" y="301.19" width="60" height="4.38" fill="#B5E67A"/>
<rect x="1544.4" y="294.63" width="60" height="6.57" fill="#B07A9A"/>
<rect x="1544.4" y="250.85" width="60" height="43.78" fill="#C6D265"/>
<rect x="1544.4" y="246.47" width="60" height="4.38" fill="#8D8BEA"/>
<rect x="1544.4" y="482.38" width="60" height="1" fill="#fff" fill-opacity="0.15"/>
<rect x="1544.4" y="464.87" width="60" height="1" fill="#fff" fill-opacity="0.15"/>
<rect x="1544.4" y="462.68" width="60" height="1" fill="#fff" fill-opacity="0.15"/>
<rect x="1544.4" y="460.49" width="60" height="1" fill="#fff" fill-opacity="0.15"/>
<rect x="1544.4" y="451.74" width="60" height="1" fill="#fff" fill-opacity="0.15"/>
<rect x="1544.4" y="427.66" width="60" height="1" fill="#fff" fill-opacity="0.15"/>
<rect x="1544.4" y="412.33" width="60" height="1" fill="#fff" fill-opacity="0.15"/>
<rect x="1544.4" y="397.01" width="60" height="1" fill="#fff" fill-opacity="0.15"/>
<rect x="1544.4" y="381.69" width="60" height="1" fill="#fff" fill-opacity="0.15"/>
<rect x="1544.4" y="364.18" width="60" height="1" fill="#fff" fill-opacity="0.15"/>
<rect x="1544.4" y="361.99" width="60" height="1" fill="#fff" fill-opacity="0.15"/>
<rect x="1544.4" y="359.80" width="60" height="1" fill="#fff" fill-opacity="0.15"/>
<rect x="1544.4" y="357.61" width="60" height="1" fill="#fff" fill-opacity="0.15"/>
<rect x="1544.4" y="322.58" width="60" height="1" fill="#fff" fill-opacity="0.15"/>
<rect x="1544.4" y="313.83" width="60" height="1" fill="#fff" fill-opacity="0.15"/>
<rect x="1544.4" y="311.64" width="60" height="1" fill="#fff" fill-opacity="0.15"/>
<rect x="1544.4" y="305.07" width="60" height="1" fill="#fff" fill-opacity="0.15"/>
<rect x="1544.4" y="300.69" width="60" height="1" fill="#fff" fill-opacity="0.15"/>
<rect x="1544.4" y="294.13" width="60" height="1" fill="#fff" fill-opacity="0.15"/>
<rect x="1544.4" y="250.35" width="60" height="1" fill="#fff" fill-opacity="0.15"/>
<rect x="1544.4" y="245.97" width="60" height="1" fill="#fff" fill-opacity="0.15"/>
<rect x="1608.7" y="502.58" width="60" height="6.57" fill="#D6BE58"/>
<rect x="1608.7" y="485.07" width="60" height="17.51" fill="#8D8BEA"/>
<rect x="1608.7" y="482.88" width="60" height="2.19" fill="#5B3999"/>
<rect x="1608.7" y="480.69" width="60" height="2.19" fill="#6FB9C3"/>
<rect x="1608.7" y="476.31" width="60" height="4.38" fill="#57876F"/>
<rect x="1608.7" y="502.08" width="60" height="1" fill="#fff" fill-opacity="0.15"/>
<rect x="1608.7" y="484.57" width="60" height="1" fill="#fff" fill-opacity="0.15"/>
<rect x="1608.7" y="482.38" width="60" height="1" fill="#fff" fill-opacity="0.15"/>
<rect x="1608.7" y="480.19" width="60" height="1" fill="#fff" fill-opacity="0.15"/>
<rect x="1608.7" y="475.81" width="60" height="1" fill="#fff" fill-opacity="0.15"/>
<rect x="1673.0" y="506.96" width="60" height="2.19" fill="#D6BE58"/>
<rect x="1673.0" y="489.45" width="60" height="17.51" fill="#8D8BEA"/>
<rect x="1673.0" y="487.26" width="60" height="2.19" fill="#5B3999"/>
<rect x="1673.0" y="485.07" width="60" height="2.19" fill="#6FB9C3"/>
<rect x="1673.0" y="480.69" width="60" height="4.38" fill="#4068CF"/>
<rect x="1673.0" y="465.37" width="60" height="15.32" fill="#6141A5"/>
<rect x="1673.0" y="506.46" width="60" height="1" fill="#fff" fill-opacity="0.15"/>
<rect x="1673.0" y="488.95" width="60" height="1" fill="#fff" fill-opacity="0.15"/>
<rect x="1673.0" y="486.76" width="60" height="1" fill="#fff" fill-opacity="0.15"/>
<rect x="1673.0" y="484.57" width="60" height="1" fill="#fff" fill-opacity="0.15"/>
<rect x="1673.0" y="480.19" width="60" height="1" fill="#fff" fill-opacity="0.15"/>
<rect x="1673.0" y="464.87" width="60" height="1" fill="#fff" fill-opacity="0.15"/>
<rect x="1737.4" y="504.77" width="60" height="4.38" fill="#D6BE58"/>
<rect x="1737.4" y="487.26" width="60" height="17.51" fill="#8D8BEA"/>
<rect x="1737.4" y="485.07" width="60" height="2.19" fill="#5B3999"/>
<rect x="1737.4" y="482.88" width="60" height="2.19" fill="#6FB9C3"/>
<rect x="1737.4" y="445.67" width="60" height="37.21" fill="#57876F"/>
<rect x="1737.4" y="443.48" width="60" height="2.19" fill="#57876F"/>
<rect x="1737.4" y="441.29" width="60" height="2.19" fill="#4068CF"/>
<rect x="1737.4" y="439.10" width="60" height="2.19" fill="#57876F"/>
<rect x="1737.4" y="436.91" width="60" height="2.19" fill="#D6BE58"/>
<rect x="1737.4" y="430.35" width="60" height="6.57" fill="#6141A5"/>
<rect x="1737.4" y="504.27" width="60" height="1" fill="#fff" fill-opacity="0.15"/>
<rect x="1737.4" y="486.76" width="60" height="1" fill="#fff" fill-opacity="0.15"/>
<rect x="1737.4" y="484.57" width="60" height="1" fill="#fff" fill-opacity="0.15"/>
<rect x="1737.4" y="482.38" width="60" height="1" fill="#fff" fill-opacity="0.15"/>
<rect x="1737.4" y="445.17" width="60" height="1" fill="#fff" fill-opacity="0.15"/>
<rect x="1737.4" y="442.98" width="60" height="1" fill="#fff" fill-opacity="0.15"/>
<rect x="1737.4" y="440.79" width="60" height="1" fill="#fff" fill-opacity="0.15"/>
<rect x="1737.4" y="438.60" width="60" height="1" fill="#fff" fill-opacity="0.15"/>
<rect x="1737.4" y="436.41" width="60" height="1" fill="#fff" fill-opacity="0.15"/>
<rect x="1737.4" y="429.85" width="60" height="1" fill="#fff" fill-opacity="0.15"/>
<rect x="1801.7" y="474.13" width="60" height="35.02" fill="#D6BE58"/>
<rect x="1801.7" y="456.61" width="60" height="17.51" fill="#8D8BEA"/>
<rect x="1801.7" y="454.42" width="60" height="2.19" fill="#5B3999"/>
<rect x="1801.7" y="452.24" width="60" height="2.19" fill="#6FB9C3"/>
<rect x="1801.7" y="434.72" width="60" height="17.51" fill="#4068CF"/>
<rect x="1801.7" y="415.02" width="60" height="19.70" fill="#4068CF"/>
<rect x="1801.7" y="397.51" width="60" height="17.51" fill="#57876F"/>
<rect x="1801.7" y="395.32" width="60" height="2.19" fill="#C6D265"/>
<rect x="1801.7" y="393.13" width="60" height="2.19" fill="#6FB9C3"/>
<rect x="1801.7" y="360.30" width="60" height="32.83" fill="#6141A5"/>
<rect x="1801.7" y="473.63" width="60" height="1" fill="#fff" fill-opacity="0.15"/>
<rect x="1801.7" y="456.11" width="60" height="1" fill="#fff" fill-opacity="0.15"/>
<rect x="1801.7" y="453.92" width="60" height="1" fill="#fff" fill-opacity="0.15"/>
<rect x="1801.7" y="451.74" width="60" height="1" fill="#fff" fill-opacity="0.15"/>
<rect x="1801.7" y="434.22" width="60" height="1" fill="#fff" fill-opacity="0.15"/>
<rect x="1801.7" y="414.52" width="60" height="1" fill="#fff" fill-opacity="0.15"/>
<rect x="1801.7" y="397.01" width="60" height="1" fill="#fff" fill-opacity="0.15"/>
<rect x="1801.7" y="394.82" width="60" height="1" fill="#fff" fill-opacity="0.15"/>
<rect x="1801.7" y="392.63" width="60" height="1" fill="#fff" fill-opacity="0.15"/>
<rect x="1801.7" y="359.80" width="60" height="1" fill="#fff" fill-opacity="0.15"/>
<rect x="1866.0" y="471.94" width="60" height="37.21" fill="#D6BE58"/>
<rect x="1866.0" y="454.42" width="60" height="17.51" fill="#8D8BEA"/>
<rect x="1866.0" y="452.24" width="60" height="2.19" fill="#5B3999"/>
<rect x="1866.0" y="450.05" width="60" height="2.19" fill="#6FB9C3"/>
<rect x="1866.0" y="428.16" width="60" height="21.89" fill="#4068CF"/>
<rect x="1866.0" y="404.08" width="60" height="24.08" fill="#57876F"/>
<rect x="1866.0" y="397.51" width="60" height="6.57" fill="#57876F"/>
<rect x="1866.0" y="390.94" width="60" height="6.57" fill="#4068CF"/>
<rect x="1866.0" y="384.38" width="60" height="6.57" fill="#57876F"/>
<rect x="1866.0" y="377.81" width="60" height="6.57" fill="#D6BE58"/>
<rect x="1866.0" y="375.62" width="60" height="2.19" fill="#E0964A"/>
<rect x="1866.0" y="373.43" width="60" height="2.19" fill="#BD4E8B"/>
<rect x="1866.0" y="371.24" width="60" height="2.19" fill="#8D8BEA"/>
<rect x="1866.0" y="342.79" width="60" height="28.46" fill="#6141A5"/>
<rect x="1866.0" y="471.44" width="60" height="1" fill="#fff" fill-opacity="0.15"/>
<rect x="1866.0" y="453.92" width="60" height="1" fill="#fff" fill-opacity="0.15"/>
<rect x="1866.0" y="451.74" width="60" height="1" fill="#fff" fill-opacity="0.15"/>
<rect x="1866.0" y="449.55" width="60" height="1" fill="#fff" fill-opacity="0.15"/>
<rect x="1866.0" y="427.66" width="60" height="1" fill="#fff" fill-opacity="0.15"/>
<rect x="1866.0" y="403.58" width="60" height="1" fill="#fff" fill-opacity="0.15"/>
<rect x="1866.0" y="397.01" width="60" height="1" fill="#fff" fill-opacity="0.15"/>
<rect x="1866.0" y="390.44" width="60" height="1" fill="#fff" fill-opacity="0.15"/>
<rect x="1866.0" y="383.88" width="60" height="1" fill="#fff" fill-opacity="0.15"/>
<rect x="1866.0" y="377.31" width="60" height="1" fill="#fff" fill-opacity="0.15"/>
<rect x="1866.0" y="375.12" width="60" height="1" fill="#fff" fill-opacity="0.15"/>
<rect x="1866.0" y="372.93" width="60" height="1" fill="#fff" fill-opacity="0.15"/>
<rect x="1866.0" y="370.74" width="60" height="1" fill="#fff" fill-opacity="0.15"/>
<rect x="1866.0" y="342.29" width="60" height="1" fill="#fff" fill-opacity="0.15"/>
<rect x="1930.4" y="465.37" width="60" height="43.78" fill="#D6BE58"/>
<rect x="1930.4" y="447.86" width="60" height="17.51" fill="#8D8BEA"/>
<rect x="1930.4" y="445.67" width="60" height="2.19" fill="#5B3999"/>
<rect x="1930.4" y="443.48" width="60" height="2.19" fill="#6FB9C3"/>
<rect x="1930.4" y="434.72" width="60" height="8.76" fill="#4068CF"/>
<rect x="1930.4" y="425.97" width="60" height="8.76" fill="#57876F"/>
<rect x="1930.4" y="419.40" width="60" height="6.57" fill="#57876F"/>
<rect x="1930.4" y="410.64" width="60" height="8.76" fill="#4068CF"/>
<rect x="1930.4" y="404.08" width="60" height="6.57" fill="#57876F"/>
<rect x="1930.4" y="397.51" width="60" height="6.57" fill="#D6BE58"/>
<rect x="1930.4" y="388.75" width="60" height="8.76" fill="#B5753B"/>
<rect x="1930.4" y="380.00" width="60" height="8.76" fill="#BD4E8B"/>
<rect x="1930.4" y="371.24" width="60" height="8.76" fill="#8D8BEA"/>
<rect x="1930.4" y="369.05" width="60" height="2.19" fill="#6FB9C3"/>
<rect x="1930.4" y="366.87" width="60" height="2.19" fill="#D8AED6"/>
<rect x="1930.4" y="338.41" width="60" height="28.46" fill="#6141A5"/>
<rect x="1930.4" y="336.22" width="60" height="2.19" fill="#BA99B8"/>
<rect x="1930.4" y="334.03" width="60" height="2.19" fill="#6FB9C3"/>
<rect x="1930.4" y="464.87" width="60" height="1" fill="#fff" fill-opacity="0.15"/>
<rect x="1930.4" y="447.36" width="60" height="1" fill="#fff" fill-opacity="0.15"/>
<rect x="1930.4" y="445.17" width="60" height="1" fill="#fff" fill-opacity="0.15"/>
<rect x="1930.4" y="442.98" width="60" height="1" fill="#fff" fill-opacity="0.15"/>
<rect x="1930.4" y="434.22" width="60" height="1" fill="#fff" fill-opacity="0.15"/>
<rect x="1930.4" y="425.47" width="60" height="1" fill="#fff" fill-opacity="0.15"/>
<rect x="1930.4" y="418.90" width="60" height="1" fill="#fff" fill-opacity="0.15"/>
<rect x="1930.4" y="410.14" width="60" height="1" fill="#fff" fill-opacity="0.15"/>
<rect x="1930.4" y="403.58" width="60" height="1" fill="#fff" fill-opacity="0.15"/>
<rect x="1930.4" y="397.01" width="60" height="1" fill="#fff" fill-opacity="0.15"/>
<rect x="1930.4" y="388.25" width="60" height="1" fill="#fff" fill-opacity="0.15"/>
<rect x="1930.4" y="379.50" width="60" height="1" fill="#fff" fill-opacity="0.15"/>
<rect x="1930.4" y="370.74" width="60" height="1" fill="#fff" fill-opacity="0.15"/>
<rect x="1930.4" y="368.55" width="60" height="1" fill="#fff" fill-opacity="0.15"/>
<rect x="1930.4" y="366.37" width="60" height="1" fill="#fff" fill-opacity="0.15"/>
<rect x="1930.4" y="337.91" width="60" height="1" fill="#fff" fill-opacity="0.15"/>
<rect x="1930.4" y="335.72" width="60" height="1" fill="#fff" fill-opacity="0.15"/>
<rect x="1930.4" y="333.53" width="60" height="1" fill="#fff" fill-opacity="0.15"/>
<rect x="1994.7" y="425.97" width="60" height="83.18" fill="#D6BE58"/>
<rect x="1994.7" y="408.46" width="60" height="17.51" fill="#8D8BEA"/>
<rect x="1994.7" y="406.27" width="60" height="2.19" fill="#5B3999"/>
<rect x="1994.7" y="404.08" width="60" height="2.19" fill="#6FB9C3"/>
<rect x="1994.7" y="377.81" width="60" height="26.27" fill="#4068CF"/>
<rect x="1994.7" y="351.54" width="60" height="26.27" fill="#57876F"/>
<rect x="1994.7" y="336.22" width="60" height="15.32" fill="#57876F"/>
<rect x="1994.7" y="329.65" width="60" height="6.57" fill="#4068CF"/>
<rect x="1994.7" y="314.33" width="60" height="15.32" fill="#4068CF"/>
<rect x="1994.7" y="299.01" width="60" height="15.32" fill="#57876F"/>
<rect x="1994.7" y="283.68" width="60" height="15.32" fill="#D6BE58"/>
<rect x="1994.7" y="279.30" width="60" height="4.38" fill="#B5753B"/>
<rect x="1994.7" y="274.93" width="60" height="4.38" fill="#BD4E8B"/>
<rect x="1994.7" y="270.55" width="60" height="4.38" fill="#8D8BEA"/>
<rect x="1994.7" y="233.34" width="60" height="37.21" fill="#6141A5"/>
<rect x="1994.7" y="218.01" width="60" height="15.32" fill="#BA99B8"/>
<rect x="1994.7" y="215.82" width="60" height="2.19" fill="#B5753B"/>
<rect x="1994.7" y="213.63" width="60" height="2.19" fill="#D8AED6"/>
<rect x="1994.7" y="209.26" width="60" height="4.38" fill="#8FDCE0"/>
<rect x="1994.7" y="425.47" width="60" height="1" fill="#fff" fill-opacity="0.15"/>
<rect x="1994.7" y="407.96" width="60" height="1" fill="#fff" fill-opacity="0.15"/>
<rect x="1994.7" y="405.77" width="60" height="1" fill="#fff" fill-opacity="0.15"/>
<rect x="1994.7" y="403.58" width="60" height="1" fill="#fff" fill-opacity="0.15"/>
<rect x="1994.7" y="377.31" width="60" height="1" fill="#fff" fill-opacity="0.15"/>
<rect x="1994.7" y="351.04" width="60" height="1" fill="#fff" fill-opacity="0.15"/>
<rect x="1994.7" y="335.72" width="60" height="1" fill="#fff" fill-opacity="0.15"/>
<rect x="1994.7" y="329.15" width="60" height="1" fill="#fff" fill-opacity="0.15"/>
<rect x="1994.7" y="313.83" width="60" height="1" fill="#fff" fill-opacity="0.15"/>
<rect x="1994.7" y="298.51" width="60" height="1" fill="#fff" fill-opacity="0.15"/>
<rect x="1994.7" y="283.18" width="60" height="1" fill="#fff" fill-opacity="0.15"/>
<rect x="1994.7" y="278.80" width="60" height="1" fill="#fff" fill-opacity="0.15"/>
<rect x="1994.7" y="274.43" width="60" height="1" fill="#fff" fill-opacity="0.15"/>
<rect x="1994.7" y="270.05" width="60" height="1" fill="#fff" fill-opacity="0.15"/>
<rect x="1994.7" y="232.84" width="60" height="1" fill="#fff" fill-opacity="0.15"/>
<rect x="1994.7" y="217.51" width="60" height="1" fill="#fff" fill-opacity="0.15"/>
<rect x="1994.7" y="215.32" width="60" height="1" fill="#fff" fill-opacity="0.15"/>
<rect x="1994.7" y="213.13" width="60" height="1" fill="#fff" fill-opacity="0.15"/>
<rect x="1994.7" y="208.76" width="60" height="1" fill="#fff" fill-opacity="0.15"/>
<rect x="2059.0" y="491.64" width="60" height="17.51" fill="#8D8BEA"/>
<rect x="2059.0" y="489.45" width="60" height="2.19" fill="#5B3999"/>
<rect x="2059.0" y="487.26" width="60" height="2.19" fill="#6FB9C3"/>
<rect x="2059.0" y="480.69" width="60" height="6.57" fill="#57876F"/>
<rect x="2059.0" y="478.50" width="60" height="2.19" fill="#57876F"/>
<rect x="2059.0" y="476.31" width="60" height="2.19" fill="#4068CF"/>
<rect x="2059.0" y="474.13" width="60" height="2.19" fill="#57876F"/>
<rect x="2059.0" y="471.94" width="60" height="2.19" fill="#D6BE58"/>
<rect x="2059.0" y="467.56" width="60" height="4.38" fill="#6141A5"/>
<rect x="2059.0" y="491.14" width="60" height="1" fill="#fff" fill-opacity="0.15"/>
<rect x="2059.0" y="488.95" width="60" height="1" fill="#fff" fill-opacity="0.15"/>
<rect x="2059.0" y="486.76" width="60" height="1" fill="#fff" fill-opacity="0.15"/>
<rect x="2059.0" y="480.19" width="60" height="1" fill="#fff" fill-opacity="0.15"/>
<rect x="2059.0" y="478.00" width="60" height="1" fill="#fff" fill-opacity="0.15"/>
<rect x="2059.0" y="475.81" width="60" height="1" fill="#fff" fill-opacity="0.15"/>
<rect x="2059.0" y="473.63" width="60" height="1" fill="#fff" fill-opacity="0.15"/>
<rect x="2059.0" y="471.44" width="60" height="1" fill="#fff" fill-opacity="0.15"/>
<rect x="2059.0" y="467.06" width="60" height="1" fill="#fff" fill-opacity="0.15"/>
<rect x="2123.4" y="491.64" width="60" height="17.51" fill="#8D8BEA"/>
<rect x="2123.4" y="489.45" width="60" height="2.19" fill="#5B3999"/>
<rect x="2123.4" y="487.26" width="60" height="2.19" fill="#6FB9C3"/>
<rect x="2123.4" y="485.07" width="60" height="2.19" fill="#57876F"/>
<rect x="2123.4" y="482.88" width="60" height="2.19" fill="#4068CF"/>
<rect x="2123.4" y="480.69" width="60" height="2.19" fill="#57876F"/>
<rect x="2123.4" y="478.50" width="60" height="2.19" fill="#D6BE58"/>
<rect x="2123.4" y="474.13" width="60" height="4.38" fill="#6141A5"/>
<rect x="2123.4" y="491.14" width="60" height="1" fill="#fff" fill-opacity="0.15"/>
<rect x="2123.4" y="488.95" width="60" height="1" fill="#fff" fill-opacity="0.15"/>
<rect x="2123.4" y="486.76" width="60" height="1" fill="#fff" fill-opacity="0.15"/>
<rect x="2123.4" y="484.57" width="60" height="1" fill="#fff" fill-opacity="0.15"/>
<rect x="2123.4" y="482.38" width="60" height="1" fill="#fff" fill-opacity="0.15"/>
<rect x="2123.4" y="480.19" width="60" height="1" fill="#fff" fill-opacity="0.15"/>
<rect x="2123.4" y="478.00" width="60" height="1" fill="#fff" fill-opacity="0.15"/>
<rect x="2123.4" y="473.63" width="60" height="1" fill="#fff" fill-opacity="0.15"/>
<rect x="2187.7" y="482.88" width="60" height="26.27" fill="#D6BE58"/>
<rect x="2187.7" y="465.37" width="60" height="17.51" fill="#8D8BEA"/>
<rect x="2187.7" y="463.18" width="60" height="2.19" fill="#5B3999"/>
<rect x="2187.7" y="460.99" width="60" height="2.19" fill="#6FB9C3"/>
<rect x="2187.7" y="436.91" width="60" height="24.08" fill="#4068CF"/>
<rect x="2187.7" y="406.27" width="60" height="30.65" fill="#4068CF"/>
<rect x="2187.7" y="395.32" width="60" height="10.94" fill="#57876F"/>
<rect x="2187.7" y="388.75" width="60" height="6.57" fill="#4068CF"/>
<rect x="2187.7" y="386.57" width="60" height="2.19" fill="#57876F"/>
<rect x="2187.7" y="375.62" width="60" height="10.94" fill="#4068CF"/>
<rect x="2187.7" y="364.68" width="60" height="10.94" fill="#57876F"/>
<rect x="2187.7" y="353.73" width="60" height="10.94" fill="#D6BE58"/>
<rect x="2187.7" y="334.03" width="60" height="19.70" fill="#C6D265"/>
<rect x="2187.7" y="329.65" width="60" height="4.38" fill="#6FB9C3"/>
<rect x="2187.7" y="320.90" width="60" height="8.76" fill="#C6D265"/>
<rect x="2187.7" y="268.36" width="60" height="52.54" fill="#6141A5"/>
<rect x="2187.7" y="482.38" width="60" height="1" fill="#fff" fill-opacity="0.15"/>
<rect x="2187.7" y="464.87" width="60" height="1" fill="#fff" fill-opacity="0.15"/>
<rect x="2187.7" y="462.68" width="60" height="1" fill="#fff" fill-opacity="0.15"/>
<rect x="2187.7" y="460.49" width="60" height="1" fill="#fff" fill-opacity="0.15"/>
<rect x="2187.7" y="436.41" width="60" height="1" fill="#fff" fill-opacity="0.15"/>
<rect x="2187.7" y="405.77" width="60" height="1" fill="#fff" fill-opacity="0.15"/>
<rect x="2187.7" y="394.82" width="60" height="1" fill="#fff" fill-opacity="0.15"/>
<rect x="2187.7" y="388.25" width="60" height="1" fill="#fff" fill-opacity="0.15"/>
<rect x="2187.7" y="386.07" width="60" height="1" fill="#fff" fill-opacity="0.15"/>
<rect x="2187.7" y="375.12" width="60" height="1" fill="#fff" fill-opacity="0.15"/>
<rect x="2187.7" y="364.18" width="60" height="1" fill="#fff" fill-opacity="0.15"/>
<rect x="2187.7" y="353.23" width="60" height="1" fill="#fff" fill-opacity="0.15"/>
<rect x="2187.7" y="333.53" width="60" height="1" fill="#fff" fill-opacity="0.15"/>
<rect x="2187.7" y="329.15" width="60" height="1" fill="#fff" fill-opacity="0.15"/>
<rect x="2187.7" y="320.40" width="60" height="1" fill="#fff" fill-opacity="0.15"/>
<rect x="2187.7" y="267.86" width="60" height="1" fill="#fff" fill-opacity="0.15"/>
<rect x="2252.0" y="450.05" width="60" height="59.10" fill="#D6BE58"/>
<rect x="2252.0" y="432.53" width="60" height="17.51" fill="#8D8BEA"/>
<rect x="2252.0" y="430.35" width="60" height="2.19" fill="#5B3999"/>
<rect x="2252.0" y="428.16" width="60" height="2.19" fill="#6FB9C3"/>
<rect x="2252.0" y="412.83" width="60" height="15.32" fill="#4068CF"/>
<rect x="2252.0" y="397.51" width="60" height="15.32" fill="#4068CF"/>
<rect x="2252.0" y="375.62" width="60" height="21.89" fill="#57876F"/>
<rect x="2252.0" y="373.43" width="60" height="2.19" fill="#4068CF"/>
<rect x="2252.0" y="371.24" width="60" height="2.19" fill="#57876F"/>
<rect x="2252.0" y="366.87" width="60" height="4.38" fill="#D6BE58"/>
<rect x="2252.0" y="355.92" width="60" height="10.95" fill="#B5753B"/>
<rect x="2252.0" y="353.73" width="60" height="2.19" fill="#C6D265"/>
<rect x="2252.0" y="342.79" width="60" height="10.95" fill="#BD4E8B"/>
<rect x="2252.0" y="331.84" width="60" height="10.94" fill="#8D8BEA"/>
<rect x="2252.0" y="329.65" width="60" height="2.19" fill="#6FB9C3"/>
<rect x="2252.0" y="270.55" width="60" height="59.10" fill="#6141A5"/>
<rect x="2252.0" y="268.36" width="60" height="2.19" fill="#D6BE58"/>
<rect x="2252.0" y="261.79" width="60" height="6.57" fill="#C5B0BC"/>
<rect x="2252.0" y="259.60" width="60" height="2.19" fill="#B5753B"/>
<rect x="2252.0" y="449.55" width="60" height="1" fill="#fff" fill-opacity="0.15"/>
<rect x="2252.0" y="432.03" width="60" height="1" fill="#fff" fill-opacity="0.15"/>
<rect x="2252.0" y="429.85" width="60" height="1" fill="#fff" fill-opacity="0.15"/>
<rect x="2252.0" y="427.66" width="60" height="1" fill="#fff" fill-opacity="0.15"/>
<rect x="2252.0" y="412.33" width="60" height="1" fill="#fff" fill-opacity="0.15"/>
<rect x="2252.0" y="397.01" width="60" height="1" fill="#fff" fill-opacity="0.15"/>
<rect x="2252.0" y="375.12" width="60" height="1" fill="#fff" fill-opacity="0.15"/>
<rect x="2252.0" y="372.93" width="60" height="1" fill="#fff" fill-opacity="0.15"/>
<rect x="2252.0" y="370.74" width="60" height="1" fill="#fff" fill-opacity="0.15"/>
<rect x="2252.0" y="366.37" width="60" height="1" fill="#fff" fill-opacity="0.15"/>
<rect x="2252.0" y="355.42" width="60" height="1" fill="#fff" fill-opacity="0.15"/>
<rect x="2252.0" y="353.23" width="60" height="1" fill="#fff" fill-opacity="0.15"/>
<rect x="2252.0" y="342.29" width="60" height="1" fill="#fff" fill-opacity="0.15"/>
<rect x="2252.0" y="331.34" width="60" height="1" fill="#fff" fill-opacity="0.15"/>
<rect x="2252.0" y="329.15" width="60" height="1" fill="#fff" fill-opacity="0.15"/>
<rect x="2252.0" y="270.05" width="60" height="1" fill="#fff" fill-opacity="0.15"/>
<rect x="2252.0" y="267.86" width="60" height="1" fill="#fff" fill-opacity="0.15"/>
<rect x="2252.0" y="261.29" width="60" height="1" fill="#fff" fill-opacity="0.15"/>
<rect x="2252.0" y="259.10" width="60" height="1" fill="#fff" fill-opacity="0.15"/>
<rect x="2316.3" y="454.42" width="60" height="54.73" fill="#D6BE58"/>
<rect x="2316.3" y="436.91" width="60" height="17.51" fill="#8D8BEA"/>
<rect x="2316.3" y="434.72" width="60" height="2.19" fill="#5B3999"/>
<rect x="2316.3" y="430.35" width="60" height="4.38" fill="#6FB9C3"/>
<rect x="2316.3" y="408.46" width="60" height="21.89" fill="#4068CF"/>
<rect x="2316.3" y="384.38" width="60" height="24.08" fill="#4068CF"/>
<rect x="2316.3" y="364.68" width="60" height="19.70" fill="#57876F"/>
<rect x="2316.3" y="358.11" width="60" height="6.57" fill="#57876F"/>
<rect x="2316.3" y="338.41" width="60" height="19.70" fill="#4068CF"/>
<rect x="2316.3" y="318.71" width="60" height="19.70" fill="#57876F"/>
<rect x="2316.3" y="299.01" width="60" height="19.70" fill="#D6BE58"/>
<rect x="2316.3" y="296.82" width="60" height="2.19" fill="#6FB9C3"/>
<rect x="2316.3" y="292.44" width="60" height="4.38" fill="#B5753B"/>
<rect x="2316.3" y="288.06" width="60" height="4.38" fill="#BD4E8B"/>
<rect x="2316.3" y="283.68" width="60" height="4.38" fill="#8D8BEA"/>
<rect x="2316.3" y="281.49" width="60" height="2.19" fill="#B5753B"/>
<rect x="2316.3" y="279.30" width="60" height="2.19" fill="#BA99B8"/>
<rect x="2316.3" y="277.12" width="60" height="2.19" fill="#C5B0BC"/>
<rect x="2316.3" y="222.39" width="60" height="54.73" fill="#6141A5"/>
<rect x="2316.3" y="211.45" width="60" height="10.94" fill="#8FDCE0"/>
<rect x="2316.3" y="453.92" width="60" height="1" fill="#fff" fill-opacity="0.15"/>
<rect x="2316.3" y="436.41" width="60" height="1" fill="#fff" fill-opacity="0.15"/>
<rect x="2316.3" y="434.22" width="60" height="1" fill="#fff" fill-opacity="0.15"/>
<rect x="2316.3" y="429.85" width="60" height="1" fill="#fff" fill-opacity="0.15"/>
<rect x="2316.3" y="407.96" width="60" height="1" fill="#fff" fill-opacity="0.15"/>
<rect x="2316.3" y="383.88" width="60" height="1" fill="#fff" fill-opacity="0.15"/>
<rect x="2316.3" y="364.18" width="60" height="1" fill="#fff" fill-opacity="0.15"/>
<rect x="2316.3" y="357.61" width="60" height="1" fill="#fff" fill-opacity="0.15"/>
<rect x="2316.3" y="337.91" width="60" height="1" fill="#fff" fill-opacity="0.15"/>
<rect x="2316.3" y="318.21" width="60" height="1" fill="#fff" fill-opacity="0.15"/>
<rect x="2316.3" y="298.51" width="60" height="1" fill="#fff" fill-opacity="0.15"/>
<rect x="2316.3" y="296.32" width="60" height="1" fill="#fff" fill-opacity="0.15"/>
<rect x="2316.3" y="291.94" width="60" height="1" fill="#fff" fill-opacity="0.15"/>
<rect x="2316.3" y="287.56" width="60" height="1" fill="#fff" fill-opacity="0.15"/>
<rect x="2316.3" y="283.18" width="60" height="1" fill="#fff" fill-opacity="0.15"/>
<rect x="2316.3" y="280.99" width="60" height="1" fill="#fff" fill-opacity="0.15"/>
<rect x="2316.3" y="278.80" width="60" height="1" fill="#fff" fill-opacity="0.15"/>
<rect x="2316.3" y="276.62" width="60" height="1" fill="#fff" fill-opacity="0.15"/>
<rect x="2316.3" y="221.89" width="60" height="1" fill="#fff" fill-opacity="0.15"/>
<rect x="2316.3" y="210.95" width="60" height="1" fill="#fff" fill-opacity="0.15"/>
<rect x="2380.7" y="460.99" width="60" height="48.16" fill="#D6BE58"/>
<rect x="2380.7" y="443.48" width="60" height="17.51" fill="#8D8BEA"/>
<rect x="2380.7" y="441.29" width="60" height="2.19" fill="#5B3999"/>
<rect x="2380.7" y="439.10" width="60" height="2.19" fill="#6FB9C3"/>
<rect x="2380.7" y="412.83" width="60" height="26.27" fill="#4068CF"/>
<rect x="2380.7" y="384.38" width="60" height="28.46" fill="#4068CF"/>
<rect x="2380.7" y="377.81" width="60" height="6.57" fill="#57876F"/>
<rect x="2380.7" y="369.05" width="60" height="8.76" fill="#57876F"/>
<rect x="2380.7" y="360.30" width="60" height="8.76" fill="#4068CF"/>
<rect x="2380.7" y="351.54" width="60" height="8.76" fill="#57876F"/>
<rect x="2380.7" y="342.79" width="60" height="8.76" fill="#D6BE58"/>
<rect x="2380.7" y="338.41" width="60" height="4.38" fill="#B5753B"/>
<rect x="2380.7" y="334.03" width="60" height="4.38" fill="#BD4E8B"/>
<rect x="2380.7" y="329.65" width="60" height="4.38" fill="#8D8BEA"/>
<rect x="2380.7" y="327.46" width="60" height="2.19" fill="#6FB9C3"/>
<rect x="2380.7" y="283.68" width="60" height="43.78" fill="#6141A5"/>
<rect x="2380.7" y="281.49" width="60" height="2.19" fill="#6FB9C3"/>
<rect x="2380.7" y="279.30" width="60" height="2.19" fill="#D8AED6"/>
<rect x="2380.7" y="268.36" width="60" height="10.94" fill="#8FDCE0"/>
<rect x="2380.7" y="460.49" width="60" height="1" fill="#fff" fill-opacity="0.15"/>
<rect x="2380.7" y="442.98" width="60" height="1" fill="#fff" fill-opacity="0.15"/>
<rect x="2380.7" y="440.79" width="60" height="1" fill="#fff" fill-opacity="0.15"/>
<rect x="2380.7" y="438.60" width="60" height="1" fill="#fff" fill-opacity="0.15"/>
<rect x="2380.7" y="412.33" width="60" height="1" fill="#fff" fill-opacity="0.15"/>
<rect x="2380.7" y="383.88" width="60" height="1" fill="#fff" fill-opacity="0.15"/>
<rect x="2380.7" y="377.31" width="60" height="1" fill="#fff" fill-opacity="0.15"/>
<rect x="2380.7" y="368.55" width="60" height="1" fill="#fff" fill-opacity="0.15"/>
<rect x="2380.7" y="359.80" width="60" height="1" fill="#fff" fill-opacity="0.15"/>
<rect x="2380.7" y="351.04" width="60" height="1" fill="#fff" fill-opacity="0.15"/>
<rect x="2380.7" y="342.29" width="60" height="1" fill="#fff" fill-opacity="0.15"/>
<rect x="2380.7" y="337.91" width="60" height="1" fill="#fff" fill-opacity="0.15"/>
<rect x="2380.7" y="333.53" width="60" height="1" fill="#fff" fill-opacity="0.15"/>
<rect x="2380.7" y="329.15" width="60" height="1" fill="#fff" fill-opacity="0.15"/>
<rect x="2380.7" y="326.96" width="60" height="1" fill="#fff" fill-opacity="0.15"/>
<rect x="2380.7" y="283.18" width="60" height="1" fill="#fff" fill-opacity="0.15"/>
<rect x="2380.7" y="280.99" width="60" height="1" fill="#fff" fill-opacity="0.15"/>
<rect x="2380.7" y="278.80" width="60" height="1" fill="#fff" fill-opacity="0.15"/>
<rect x="2380.7" y="267.86" width="60" height="1" fill="#fff" fill-opacity="0.15"/>
<rect x="2445.0" y="460.99" width="60" height="48.16" fill="#D6BE58"/>
<rect x="2445.0" y="443.48" width="60" height="17.51" fill="#8D8BEA"/>
<rect x="2445.0" y="441.29" width="60" height="2.19" fill="#5B3999"/>
<rect x="2445.0" y="439.10" width="60" height="2.19" fill="#6FB9C3"/>
<rect x="2445.0" y="428.16" width="60" height="10.94" fill="#4068CF"/>
<rect x="2445.0" y="417.21" width="60" height="10.94" fill="#4068CF"/>
<rect x="2445.0" y="401.89" width="60" height="15.32" fill="#57876F"/>
<rect x="2445.0" y="393.13" width="60" height="8.76" fill="#57876F"/>
<rect x="2445.0" y="384.38" width="60" height="8.76" fill="#4068CF"/>
<rect x="2445.0" y="375.62" width="60" height="8.76" fill="#57876F"/>
<rect x="2445.0" y="366.87" width="60" height="8.76" fill="#D6BE58"/>
<rect x="2445.0" y="360.30" width="60" height="6.57" fill="#B5753B"/>
<rect x="2445.0" y="353.73" width="60" height="6.57" fill="#BD4E8B"/>
<rect x="2445.0" y="347.16" width="60" height="6.57" fill="#8D8BEA"/>
<rect x="2445.0" y="331.84" width="60" height="15.32" fill="#6141A5"/>
<rect x="2445.0" y="329.65" width="60" height="2.19" fill="#D6BE58"/>
<rect x="2445.0" y="460.49" width="60" height="1" fill="#fff" fill-opacity="0.15"/>
<rect x="2445.0" y="442.98" width="60" height="1" fill="#fff" fill-opacity="0.15"/>
<rect x="2445.0" y="440.79" width="60" height="1" fill="#fff" fill-opacity="0.15"/>
<rect x="2445.0" y="438.60" width="60" height="1" fill="#fff" fill-opacity="0.15"/>
<rect x="2445.0" y="427.66" width="60" height="1" fill="#fff" fill-opacity="0.15"/>
<rect x="2445.0" y="416.71" width="60" height="1" fill="#fff" fill-opacity="0.15"/>
<rect x="2445.0" y="401.39" width="60" height="1" fill="#fff" fill-opacity="0.15"/>
<rect x="2445.0" y="392.63" width="60" height="1" fill="#fff" fill-opacity="0.15"/>
<rect x="2445.0" y="383.88" width="60" height="1" fill="#fff" fill-opacity="0.15"/>
<rect x="2445.0" y="375.12" width="60" height="1" fill="#fff" fill-opacity="0.15"/>
<rect x="2445.0" y="366.37" width="60" height="1" fill="#fff" fill-opacity="0.15"/>
<rect x="2445.0" y="359.80" width="60" height="1" fill="#fff" fill-opacity="0.15"/>
<rect x="2445.0" y="353.23" width="60" height="1" fill="#fff" fill-opacity="0.15"/>
<rect x="2445.0" y="346.66" width="60" height="1" fill="#fff" fill-opacity="0.15"/>
<rect x="2445.0" y="331.34" width="60" height="1" fill="#fff" fill-opacity="0.15"/>
<rect x="2445.0" y="329.15" width="60" height="1" fill="#fff" fill-opacity="0.15"/>
<rect x="2509.3" y="506.96" width="60" height="2.19" fill="#D6BE58"/>
<rect x="2509.3" y="489.45" width="60" height="17.51" fill="#8D8BEA"/>
<rect x="2509.3" y="487.26" width="60" height="2.19" fill="#5B3999"/>
<rect x="2509.3" y="485.07" width="60" height="2.19" fill="#6FB9C3"/>
<rect x="2509.3" y="480.69" width="60" height="4.38" fill="#57876F"/>
<rect x="2509.3" y="478.50" width="60" height="2.19" fill="#4068CF"/>
<rect x="2509.3" y="476.31" width="60" height="2.19" fill="#57876F"/>
<rect x="2509.3" y="474.13" width="60" height="2.19" fill="#D6BE58"/>
<rect x="2509.3" y="467.56" width="60" height="6.57" fill="#6141A5"/>
<rect x="2509.3" y="506.46" width="60" height="1" fill="#fff" fill-opacity="0.15"/>
<rect x="2509.3" y="488.95" width="60" height="1" fill="#fff" fill-opacity="0.15"/>
<rect x="2509.3" y="486.76" width="60" height="1" fill="#fff" fill-opacity="0.15"/>
<rect x="2509.3" y="484.57" width="60" height="1" fill="#fff" fill-opacity="0.15"/>
<rect x="2509.3" y="480.19" width="60" height="1" fill="#fff" fill-opacity="0.15"/>
<rect x="2509.3" y="478.00" width="60" height="1" fill="#fff" fill-opacity="0.15"/>
<rect x="2509.3" y="475.81" width="60" height="1" fill="#fff" fill-opacity="0.15"/>
<rect x="2509.3" y="473.63" width="60" height="1" fill="#fff" fill-opacity="0.15"/>
<rect x="2509.3" y="467.06" width="60" height="1" fill="#fff" fill-opacity="0.15"/>
<rect x="2573.7" y="500.39" width="60" height="8.76" fill="#8D8BEA"/>
<rect x="2573.7" y="498.20" width="60" height="2.19" fill="#5B3999"/>
<rect x="2573.7" y="496.02" width="60" height="2.19" fill="#6FB9C3"/>
<rect x="2573.7" y="491.64" width="60" height="4.38" fill="#6141A5"/>
<rect x="2573.7" y="499.89" width="60" height="1" fill="#fff" fill-opacity="0.15"/>
<rect x="2573.7" y="497.70" width="60" height="1" fill="#fff" fill-opacity="0.15"/>
<rect x="2573.7" y="495.52" width="60" height="1" fill="#fff" fill-opacity="0.15"/>
<rect x="2573.7" y="491.14" width="60" height="1" fill="#fff" fill-opacity="0.15"/>
</g>
<text x="738.10" y="475.4" font-size="23.0" fill="#999999" text-anchor="middle" font-weight="normal" textLength="25.67" lengthAdjust="spacingAndGlyphs">11</text>
<text x="802.43" y="464.4" font-size="23.0" fill="#999999" text-anchor="middle" font-weight="normal" textLength="27.50" lengthAdjust="spacingAndGlyphs">16</text>
<text x="866.76" y="396.6" font-size="23.0" fill="#999999" text-anchor="middle" font-weight="normal" textLength="27.50" lengthAdjust="spacingAndGlyphs">47</text>
<text x="931.09" y="295.9" font-size="23.0" fill="#999999" text-anchor="middle" font-weight="normal" textLength="27.50" lengthAdjust="spacingAndGlyphs">93</text>
<text x="995.42" y="400.9" font-size="23.0" fill="#999999" text-anchor="middle" font-weight="normal" textLength="27.50" lengthAdjust="spacingAndGlyphs">45</text>
<text x="1059.75" y="376.9" font-size="23.0" fill="#999999" text-anchor="middle" font-weight="normal" textLength="27.50" lengthAdjust="spacingAndGlyphs">56</text>
<text x="1124.08" y="372.5" font-size="23.0" fill="#999999" text-anchor="middle" font-weight="normal" textLength="27.50" lengthAdjust="spacingAndGlyphs">58</text>
<text x="1188.41" y="455.7" font-size="23.0" fill="#999999" text-anchor="middle" font-weight="normal" textLength="27.50" lengthAdjust="spacingAndGlyphs">20</text>
<text x="1252.74" y="475.4" font-size="23.0" fill="#999999" text-anchor="middle" font-weight="normal" textLength="25.67" lengthAdjust="spacingAndGlyphs">11</text>
<text x="1317.07" y="442.5" font-size="23.0" fill="#999999" text-anchor="middle" font-weight="normal" textLength="27.50" lengthAdjust="spacingAndGlyphs">26</text>
<text x="1381.40" y="368.1" font-size="23.0" fill="#999999" text-anchor="middle" font-weight="normal" textLength="27.50" lengthAdjust="spacingAndGlyphs">60</text>
<text x="1445.73" y="206.1" font-size="23.0" fill="#999999" text-anchor="middle" font-weight="normal" textLength="41.25" lengthAdjust="spacingAndGlyphs">134</text>
<text x="1510.06" y="287.1" font-size="23.0" fill="#999999" text-anchor="middle" font-weight="normal" textLength="27.50" lengthAdjust="spacingAndGlyphs">97</text>
<text x="1574.39" y="236.8" font-size="23.0" fill="#999999" text-anchor="middle" font-weight="normal" textLength="41.25" lengthAdjust="spacingAndGlyphs">120</text>
<text x="1638.72" y="466.6" font-size="23.0" fill="#999999" text-anchor="middle" font-weight="normal" textLength="27.50" lengthAdjust="spacingAndGlyphs">15</text>
<text x="1703.05" y="455.7" font-size="23.0" fill="#999999" text-anchor="middle" font-weight="normal" textLength="27.50" lengthAdjust="spacingAndGlyphs">20</text>
<text x="1767.38" y="420.6" font-size="23.0" fill="#999999" text-anchor="middle" font-weight="normal" textLength="27.50" lengthAdjust="spacingAndGlyphs">36</text>
<text x="1831.71" y="350.6" font-size="23.0" fill="#999999" text-anchor="middle" font-weight="normal" textLength="27.50" lengthAdjust="spacingAndGlyphs">68</text>
<text x="1896.04" y="333.1" font-size="23.0" fill="#999999" text-anchor="middle" font-weight="normal" textLength="27.50" lengthAdjust="spacingAndGlyphs">76</text>
<text x="1960.37" y="324.3" font-size="23.0" fill="#999999" text-anchor="middle" font-weight="normal" textLength="27.50" lengthAdjust="spacingAndGlyphs">80</text>
<text x="2024.70" y="199.6" font-size="23.0" fill="#999999" text-anchor="middle" font-weight="normal" textLength="41.25" lengthAdjust="spacingAndGlyphs">137</text>
<text x="2089.03" y="457.9" font-size="23.0" fill="#999999" text-anchor="middle" font-weight="normal" textLength="27.50" lengthAdjust="spacingAndGlyphs">19</text>
<text x="2153.36" y="464.4" font-size="23.0" fill="#999999" text-anchor="middle" font-weight="normal" textLength="27.50" lengthAdjust="spacingAndGlyphs">16</text>
<text x="2217.69" y="258.7" font-size="23.0" fill="#999999" text-anchor="middle" font-weight="normal" textLength="39.42" lengthAdjust="spacingAndGlyphs">110</text>
<text x="2282.02" y="249.9" font-size="23.0" fill="#999999" text-anchor="middle" font-weight="normal" textLength="39.42" lengthAdjust="spacingAndGlyphs">114</text>
<text x="2346.35" y="201.7" font-size="23.0" fill="#999999" text-anchor="middle" font-weight="normal" textLength="41.25" lengthAdjust="spacingAndGlyphs">136</text>
<text x="2410.68" y="258.7" font-size="23.0" fill="#999999" text-anchor="middle" font-weight="normal" textLength="39.42" lengthAdjust="spacingAndGlyphs">110</text>
<text x="2475.01" y="320.0" font-size="23.0" fill="#999999" text-anchor="middle" font-weight="normal" textLength="27.50" lengthAdjust="spacingAndGlyphs">82</text>
<text x="2539.34" y="457.9" font-size="23.0" fill="#999999" text-anchor="middle" font-weight="normal" textLength="27.50" lengthAdjust="spacingAndGlyphs">19</text>
<text x="2603.67" y="481.9" font-size="23.0" fill="#999999" text-anchor="middle" font-weight="normal" textLength="13.75" lengthAdjust="spacingAndGlyphs">8</text>
<text x="689.80" y="518.8" font-size="27.5" fill="#3a3a3a" text-anchor="end" font-weight="normal" textLength="16.82" lengthAdjust="spacingAndGlyphs">0</text>
<text x="689.80" y="442.1" font-size="27.5" fill="#3a3a3a" text-anchor="end" font-weight="normal" textLength="33.65" lengthAdjust="spacingAndGlyphs">35</text>
<text x="689.80" y="365.5" font-size="27.5" fill="#3a3a3a" text-anchor="end" font-weight="normal" textLength="33.65" lengthAdjust="spacingAndGlyphs">70</text>
<text x="689.80" y="288.9" font-size="27.5" fill="#3a3a3a" text-anchor="end" font-weight="normal" textLength="50.47" lengthAdjust="spacingAndGlyphs">105</text>
<text x="689.80" y="212.3" font-size="27.5" fill="#3a3a3a" text-anchor="end" font-weight="normal" textLength="50.47" lengthAdjust="spacingAndGlyphs">140</text>
<text transform="translate(603.9 288.3) rotate(-90)" font-size="22.8" fill="#999999" text-anchor="middle" textLength="133.5" lengthAdjust="spacingAndGlyphs">Deployments</text>
<text class="xl" transform="translate(763.7 547.3) rotate(-47.3)" font-size="23.2" fill="#666666" text-anchor="end" textLength="136.6" lengthAdjust="spacingAndGlyphs">16 Dec 2023</text>
<text class="xl" transform="translate(828.0 547.3) rotate(-47.3)" font-size="23.2" fill="#666666" text-anchor="end" textLength="136.6" lengthAdjust="spacingAndGlyphs">17 Dec 2023</text>
<text class="xl" transform="translate(892.4 547.3) rotate(-47.3)" font-size="23.2" fill="#666666" text-anchor="end" textLength="136.6" lengthAdjust="spacingAndGlyphs">18 Dec 2023</text>
<text class="xl" transform="translate(956.7 547.3) rotate(-47.3)" font-size="23.2" fill="#666666" text-anchor="end" textLength="136.6" lengthAdjust="spacingAndGlyphs">19 Dec 2023</text>
<text class="xl" transform="translate(1021.0 547.3) rotate(-47.3)" font-size="23.2" fill="#666666" text-anchor="end" textLength="136.6" lengthAdjust="spacingAndGlyphs">20 Dec 2023</text>
<text class="xl" transform="translate(1085.3 547.3) rotate(-47.3)" font-size="23.2" fill="#666666" text-anchor="end" textLength="136.6" lengthAdjust="spacingAndGlyphs">21 Dec 2023</text>
<text class="xl" transform="translate(1149.7 547.3) rotate(-47.3)" font-size="23.2" fill="#666666" text-anchor="end" textLength="136.6" lengthAdjust="spacingAndGlyphs">22 Dec 2023</text>
<text class="xl" transform="translate(1214.0 547.3) rotate(-47.3)" font-size="23.2" fill="#666666" text-anchor="end" textLength="136.6" lengthAdjust="spacingAndGlyphs">23 Dec 2023</text>
<text class="xl" transform="translate(1278.3 547.3) rotate(-47.3)" font-size="23.2" fill="#666666" text-anchor="end" textLength="136.6" lengthAdjust="spacingAndGlyphs">24 Dec 2023</text>
<text class="xl" transform="translate(1342.7 547.3) rotate(-47.3)" font-size="23.2" fill="#666666" text-anchor="end" textLength="136.6" lengthAdjust="spacingAndGlyphs">25 Dec 2023</text>
<text class="xl" transform="translate(1407.0 547.3) rotate(-47.3)" font-size="23.2" fill="#666666" text-anchor="end" textLength="136.6" lengthAdjust="spacingAndGlyphs">26 Dec 2023</text>
<text class="xl" transform="translate(1471.3 547.3) rotate(-47.3)" font-size="23.2" fill="#666666" text-anchor="end" textLength="136.6" lengthAdjust="spacingAndGlyphs">27 Dec 2023</text>
<text class="xl" transform="translate(1535.7 547.3) rotate(-47.3)" font-size="23.2" fill="#666666" text-anchor="end" textLength="136.6" lengthAdjust="spacingAndGlyphs">28 Dec 2023</text>
<text class="xl" transform="translate(1600.0 547.3) rotate(-47.3)" font-size="23.2" fill="#666666" text-anchor="end" textLength="136.6" lengthAdjust="spacingAndGlyphs">29 Dec 2023</text>
<text class="xl" transform="translate(1664.3 547.3) rotate(-47.3)" font-size="23.2" fill="#666666" text-anchor="end" textLength="136.6" lengthAdjust="spacingAndGlyphs">30 Dec 2023</text>
<text class="xl" transform="translate(1728.7 547.3) rotate(-47.3)" font-size="23.2" fill="#666666" text-anchor="end" textLength="136.6" lengthAdjust="spacingAndGlyphs">31 Dec 2023</text>
<text class="xl" transform="translate(1793.0 547.3) rotate(-47.3)" font-size="23.2" fill="#666666" text-anchor="end" textLength="132.0" lengthAdjust="spacingAndGlyphs">01 Jan 2024</text>
<text class="xl" transform="translate(1857.3 547.3) rotate(-47.3)" font-size="23.2" fill="#666666" text-anchor="end" textLength="132.0" lengthAdjust="spacingAndGlyphs">02 Jan 2024</text>
<text class="xl" transform="translate(1921.6 547.3) rotate(-47.3)" font-size="23.2" fill="#666666" text-anchor="end" textLength="132.0" lengthAdjust="spacingAndGlyphs">03 Jan 2024</text>
<text class="xl" transform="translate(1986.0 547.3) rotate(-47.3)" font-size="23.2" fill="#666666" text-anchor="end" textLength="132.0" lengthAdjust="spacingAndGlyphs">04 Jan 2024</text>
<text class="xl" transform="translate(2050.3 547.3) rotate(-47.3)" font-size="23.2" fill="#666666" text-anchor="end" textLength="132.0" lengthAdjust="spacingAndGlyphs">05 Jan 2024</text>
<text class="xl" transform="translate(2114.6 547.3) rotate(-47.3)" font-size="23.2" fill="#666666" text-anchor="end" textLength="132.0" lengthAdjust="spacingAndGlyphs">06 Jan 2024</text>
<text class="xl" transform="translate(2179.0 547.3) rotate(-47.3)" font-size="23.2" fill="#666666" text-anchor="end" textLength="132.0" lengthAdjust="spacingAndGlyphs">07 Jan 2024</text>
<text class="xl" transform="translate(2243.3 547.3) rotate(-47.3)" font-size="23.2" fill="#666666" text-anchor="end" textLength="132.0" lengthAdjust="spacingAndGlyphs">08 Jan 2024</text>
<text class="xl" transform="translate(2307.6 547.3) rotate(-47.3)" font-size="23.2" fill="#666666" text-anchor="end" textLength="132.0" lengthAdjust="spacingAndGlyphs">09 Jan 2024</text>
<text class="xl" transform="translate(2371.9 547.3) rotate(-47.3)" font-size="23.2" fill="#666666" text-anchor="end" textLength="132.0" lengthAdjust="spacingAndGlyphs">10 Jan 2024</text>
<text class="xl" transform="translate(2436.3 547.3) rotate(-47.3)" font-size="23.2" fill="#666666" text-anchor="end" textLength="132.0" lengthAdjust="spacingAndGlyphs">11 Jan 2024</text>
<text class="xl" transform="translate(2500.6 547.3) rotate(-47.3)" font-size="23.2" fill="#666666" text-anchor="end" textLength="132.0" lengthAdjust="spacingAndGlyphs">12 Jan 2024</text>
<text class="xl" transform="translate(2564.9 547.3) rotate(-47.3)" font-size="23.2" fill="#666666" text-anchor="end" textLength="132.0" lengthAdjust="spacingAndGlyphs">13 Jan 2024</text>
<text class="xl" transform="translate(2629.3 547.3) rotate(-47.3)" font-size="23.2" fill="#666666" text-anchor="end" textLength="132.0" lengthAdjust="spacingAndGlyphs">14 Jan 2024</text>
<g style="paint-order:stroke" >
<text x="33.90" y="78.7" font-size="29.6" fill="#3b3b3b" text-anchor="start" font-weight="normal" textLength="363.20" lengthAdjust="spacingAndGlyphs" stroke="#3b3b3b" stroke-width="0.7">DEPLOYMENT FREQUENCY</text>
</g>
<circle cx="419" cy="72" r="12.9" fill="none" stroke="#3b3b3b" stroke-width="2.1"/>
<rect x="417.9" y="70" width="2.2" height="8.8" fill="#3b3b3b"/><circle cx="419" cy="66.6" r="1.5" fill="#3b3b3b"/>
<text x="585.70" y="79.8" font-size="28.6" fill="#3b3b3b" text-anchor="start" font-weight="bold" textLength="647.80" lengthAdjust="spacingAndGlyphs">Time series graph based on deployments per day</text>
<g stroke="#8c8c8c" stroke-width="4" fill="none"><path d="M2527 60.7H2557M2527 77.1H2557"/></g>
<circle cx="2537.8" cy="60.7" r="4.1" fill="#fff" stroke="#8c8c8c" stroke-width="3.6"/>
<circle cx="2546.2" cy="77.1" r="4.1" fill="#fff" stroke="#8c8c8c" stroke-width="3.6"/>
<circle cx="2608" cy="53.4" r="2.8" fill="#555"/>
<circle cx="2608" cy="65.9" r="2.8" fill="#555"/>
<circle cx="2608" cy="78.5" r="2.8" fill="#555"/>
<text x="58.60" y="313.8" font-size="66" fill="#3e3e3e" text-anchor="start" font-weight="normal" textLength="181.80" lengthAdjust="spacingAndGlyphs">61.33</text>
<text x="249.00" y="313.7" font-size="33.6" fill="#2b3a5e" text-anchor="start" font-weight="normal" textLength="115.30" lengthAdjust="spacingAndGlyphs">Per Day</text>
<rect x="57.9" y="364.2" width="117.2" height="43.6" rx="21.8" fill="#78B63D"/>
<text x="74.40" y="396.5" font-size="32.7" fill="#ffffff" text-anchor="start" font-weight="normal" textLength="84.30" lengthAdjust="spacingAndGlyphs" stroke="#fff" stroke-width="0.8">ELITE</text>
<text x="59.20" y="503.6" font-size="32.6" fill="#3e3e3e" text-anchor="start" font-weight="normal" textLength="285.80" lengthAdjust="spacingAndGlyphs">1840 deployments</text>
<g fill="none" stroke="#2e3a5f" stroke-width="2"><rect x="60.6" y="570.4" width="22.9" height="20.2" rx="1.5"/><path d="M60.6 578H83.5M67.4 566.7V573M77.7 566.7V573"/></g>
<text x="103.00" y="589.6" font-size="28.8" fill="#3e3e3e" text-anchor="start" font-weight="normal" textLength="374.70" lengthAdjust="spacingAndGlyphs">16 Dec 2023 - 14 Jan 2024</text>
<rect x="626.1" y="681.1" width="23.9" height="23.9" rx="3.5" fill="#6FB9C3"/>
<text x="666.80" y="702.8" font-size="29.4" fill="#3a3a3a" text-anchor="start" font-weight="normal" textLength="276.90" lengthAdjust="spacingAndGlyphs">ADO data generation</text>
<rect x="982.9" y="681.1" width="23.9" height="23.9" rx="3.5" fill="#BA99B8"/>
<text x="1023.20" y="702.8" font-size="29.4" fill="#3a3a3a" text-anchor="start" font-weight="normal" textLength="377.80" lengthAdjust="spacingAndGlyphs">Build ATLASSIAN_CONNECT</text>
<rect x="1442.1" y="681.1" width="23.9" height="23.9" rx="3.5" fill="#B5753B"/>
<text x="1481.10" y="702.8" font-size="29.4" fill="#3a3a3a" text-anchor="start" font-weight="normal" textLength="422.80" lengthAdjust="spacingAndGlyphs">Build ETL SERVICE SCHEDULER</text>
<text x="1918.60" y="701.8" font-size="29.6" fill="#2f6fd0" text-anchor="start" font-weight="normal" textLength="68.20" lengthAdjust="spacingAndGlyphs">More</text>
<path d="M1998.3 683.8L2009.2 698L2020.1 683.8" fill="none" stroke="#2f6fd0" stroke-width="2.4"/>
<rect x="2250" y="757.1" width="394.7" height="61.8" rx="8" fill="#fff" stroke="#d8d9e3" stroke-width="2"/>
<path d="M2363.3 757V820M2498.1 757V820" stroke="#d8d9e3" stroke-width="2"/>
<path d="M2364.3 757.1H2258a8 8 0 0 0 -8 8V810.9a8 8 0 0 0 8 8H2364.3" fill="none" stroke="#2d50d7" stroke-width="2.2"/>
<text x="2280.30" y="797.8" font-size="29.6" fill="#3454d6" text-anchor="start" font-weight="normal" textLength="50.50" lengthAdjust="spacingAndGlyphs">Day</text>
<text x="2394.80" y="797.8" font-size="29.6" fill="#3c3c3c" text-anchor="start" font-weight="normal" textLength="71.80" lengthAdjust="spacingAndGlyphs">Week</text>
<text x="2528.00" y="797.8" font-size="29.6" fill="#3c3c3c" text-anchor="start" font-weight="normal" textLength="86.70" lengthAdjust="spacingAndGlyphs">Month</text>
</svg>
</body></html>
